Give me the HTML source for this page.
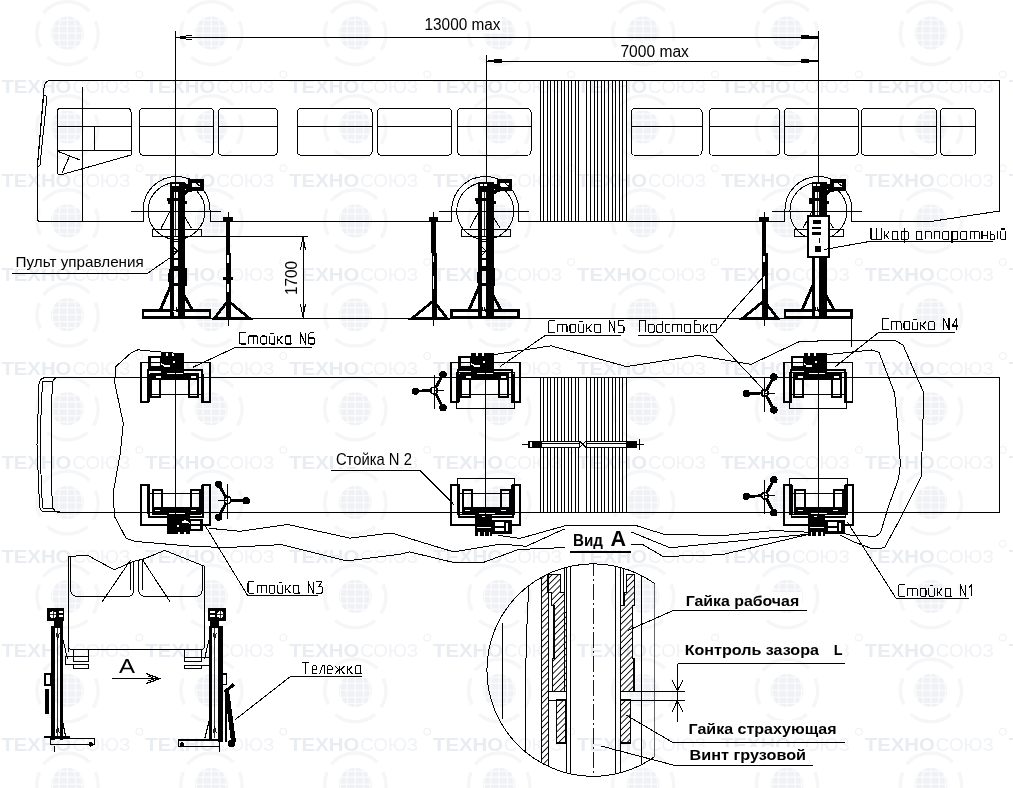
<!DOCTYPE html><html><head><meta charset="utf-8"><style>html,body{margin:0;padding:0;background:#fff;}svg{display:block;will-change:transform;}text{font-family:"Liberation Sans",sans-serif;}</style></head><body>
<svg width="1013" height="788" viewBox="0 0 1013 788">
<rect width="1013" height="788" fill="#fff"/>
<defs><g id="globe"><circle cx="0" cy="0" r="16.5" fill="#eff1f4"/><path d="M-16.5,0 H16.5 M-15,-7 H15 M-15,7 H15 M-10,-13 H10 M-10,13 H10 M0,-16.5 V16.5 M-7,-15.5 Q-10,0 -7,15.5 M7,-15.5 Q10,0 7,15.5 M-13,-10 Q-17,0 -13,10 M13,-10 Q17,0 13,10" stroke="#fbfbfc" stroke-width="1.4" fill="none"/><path d="M-24,-20 A31,31 0 0 1 22,-22 M28,-12 A31,31 0 0 1 26,17 M20,24 A31,31 0 0 1 -20,24 M-27,14 A31,31 0 0 1 -28,-12" stroke="#f5f6f8" stroke-width="3.5" fill="none"/></g></defs>
<g>
<text x="-142.5" y="-94.5" font-size="19" font-weight="bold" fill="#e9ecf0" textLength="70" lengthAdjust="spacingAndGlyphs">TEXHO</text>
<text x="-71.5" y="-94.5" font-size="19" fill="#f0f2f5" textLength="58" lengthAdjust="spacingAndGlyphs">СОЮЗ</text>
<circle cx="-4.5" cy="-113.5" r="3.5" fill="none" stroke="#eef0f3" stroke-width="1"/>
<use href="#globe" x="-76.5" y="-60.8"/>
<text x="1.4" y="-94.5" font-size="19" font-weight="bold" fill="#e9ecf0" textLength="70" lengthAdjust="spacingAndGlyphs">TEXHO</text>
<text x="72.4" y="-94.5" font-size="19" fill="#f0f2f5" textLength="58" lengthAdjust="spacingAndGlyphs">СОЮЗ</text>
<circle cx="139.4" cy="-113.5" r="3.5" fill="none" stroke="#eef0f3" stroke-width="1"/>
<use href="#globe" x="67.4" y="-60.8"/>
<text x="145.3" y="-94.5" font-size="19" font-weight="bold" fill="#e9ecf0" textLength="70" lengthAdjust="spacingAndGlyphs">TEXHO</text>
<text x="216.3" y="-94.5" font-size="19" fill="#f0f2f5" textLength="58" lengthAdjust="spacingAndGlyphs">СОЮЗ</text>
<circle cx="283.3" cy="-113.5" r="3.5" fill="none" stroke="#eef0f3" stroke-width="1"/>
<use href="#globe" x="211.3" y="-60.8"/>
<text x="289.2" y="-94.5" font-size="19" font-weight="bold" fill="#e9ecf0" textLength="70" lengthAdjust="spacingAndGlyphs">TEXHO</text>
<text x="360.2" y="-94.5" font-size="19" fill="#f0f2f5" textLength="58" lengthAdjust="spacingAndGlyphs">СОЮЗ</text>
<circle cx="427.2" cy="-113.5" r="3.5" fill="none" stroke="#eef0f3" stroke-width="1"/>
<use href="#globe" x="355.2" y="-60.8"/>
<text x="433.1" y="-94.5" font-size="19" font-weight="bold" fill="#e9ecf0" textLength="70" lengthAdjust="spacingAndGlyphs">TEXHO</text>
<text x="504.1" y="-94.5" font-size="19" fill="#f0f2f5" textLength="58" lengthAdjust="spacingAndGlyphs">СОЮЗ</text>
<circle cx="571.1" cy="-113.5" r="3.5" fill="none" stroke="#eef0f3" stroke-width="1"/>
<use href="#globe" x="499.1" y="-60.8"/>
<text x="577.0" y="-94.5" font-size="19" font-weight="bold" fill="#e9ecf0" textLength="70" lengthAdjust="spacingAndGlyphs">TEXHO</text>
<text x="648.0" y="-94.5" font-size="19" fill="#f0f2f5" textLength="58" lengthAdjust="spacingAndGlyphs">СОЮЗ</text>
<circle cx="715.0" cy="-113.5" r="3.5" fill="none" stroke="#eef0f3" stroke-width="1"/>
<use href="#globe" x="643.0" y="-60.8"/>
<text x="720.9" y="-94.5" font-size="19" font-weight="bold" fill="#e9ecf0" textLength="70" lengthAdjust="spacingAndGlyphs">TEXHO</text>
<text x="791.9" y="-94.5" font-size="19" fill="#f0f2f5" textLength="58" lengthAdjust="spacingAndGlyphs">СОЮЗ</text>
<circle cx="858.9" cy="-113.5" r="3.5" fill="none" stroke="#eef0f3" stroke-width="1"/>
<use href="#globe" x="786.9" y="-60.8"/>
<text x="864.8" y="-94.5" font-size="19" font-weight="bold" fill="#e9ecf0" textLength="70" lengthAdjust="spacingAndGlyphs">TEXHO</text>
<text x="935.8" y="-94.5" font-size="19" fill="#f0f2f5" textLength="58" lengthAdjust="spacingAndGlyphs">СОЮЗ</text>
<circle cx="1002.8" cy="-113.5" r="3.5" fill="none" stroke="#eef0f3" stroke-width="1"/>
<use href="#globe" x="930.8" y="-60.8"/>
<text x="1008.7" y="-94.5" font-size="19" font-weight="bold" fill="#e9ecf0" textLength="70" lengthAdjust="spacingAndGlyphs">TEXHO</text>
<text x="1079.7" y="-94.5" font-size="19" fill="#f0f2f5" textLength="58" lengthAdjust="spacingAndGlyphs">СОЮЗ</text>
<circle cx="1146.7" cy="-113.5" r="3.5" fill="none" stroke="#eef0f3" stroke-width="1"/>
<use href="#globe" x="1074.7" y="-60.8"/>
<text x="-142.5" y="-0.6" font-size="19" font-weight="bold" fill="#e9ecf0" textLength="70" lengthAdjust="spacingAndGlyphs">TEXHO</text>
<text x="-71.5" y="-0.6" font-size="19" fill="#f0f2f5" textLength="58" lengthAdjust="spacingAndGlyphs">СОЮЗ</text>
<circle cx="-4.5" cy="-19.6" r="3.5" fill="none" stroke="#eef0f3" stroke-width="1"/>
<use href="#globe" x="-76.5" y="33.1"/>
<text x="1.4" y="-0.6" font-size="19" font-weight="bold" fill="#e9ecf0" textLength="70" lengthAdjust="spacingAndGlyphs">TEXHO</text>
<text x="72.4" y="-0.6" font-size="19" fill="#f0f2f5" textLength="58" lengthAdjust="spacingAndGlyphs">СОЮЗ</text>
<circle cx="139.4" cy="-19.6" r="3.5" fill="none" stroke="#eef0f3" stroke-width="1"/>
<use href="#globe" x="67.4" y="33.1"/>
<text x="145.3" y="-0.6" font-size="19" font-weight="bold" fill="#e9ecf0" textLength="70" lengthAdjust="spacingAndGlyphs">TEXHO</text>
<text x="216.3" y="-0.6" font-size="19" fill="#f0f2f5" textLength="58" lengthAdjust="spacingAndGlyphs">СОЮЗ</text>
<circle cx="283.3" cy="-19.6" r="3.5" fill="none" stroke="#eef0f3" stroke-width="1"/>
<use href="#globe" x="211.3" y="33.1"/>
<text x="289.2" y="-0.6" font-size="19" font-weight="bold" fill="#e9ecf0" textLength="70" lengthAdjust="spacingAndGlyphs">TEXHO</text>
<text x="360.2" y="-0.6" font-size="19" fill="#f0f2f5" textLength="58" lengthAdjust="spacingAndGlyphs">СОЮЗ</text>
<circle cx="427.2" cy="-19.6" r="3.5" fill="none" stroke="#eef0f3" stroke-width="1"/>
<use href="#globe" x="355.2" y="33.1"/>
<text x="433.1" y="-0.6" font-size="19" font-weight="bold" fill="#e9ecf0" textLength="70" lengthAdjust="spacingAndGlyphs">TEXHO</text>
<text x="504.1" y="-0.6" font-size="19" fill="#f0f2f5" textLength="58" lengthAdjust="spacingAndGlyphs">СОЮЗ</text>
<circle cx="571.1" cy="-19.6" r="3.5" fill="none" stroke="#eef0f3" stroke-width="1"/>
<use href="#globe" x="499.1" y="33.1"/>
<text x="577.0" y="-0.6" font-size="19" font-weight="bold" fill="#e9ecf0" textLength="70" lengthAdjust="spacingAndGlyphs">TEXHO</text>
<text x="648.0" y="-0.6" font-size="19" fill="#f0f2f5" textLength="58" lengthAdjust="spacingAndGlyphs">СОЮЗ</text>
<circle cx="715.0" cy="-19.6" r="3.5" fill="none" stroke="#eef0f3" stroke-width="1"/>
<use href="#globe" x="643.0" y="33.1"/>
<text x="720.9" y="-0.6" font-size="19" font-weight="bold" fill="#e9ecf0" textLength="70" lengthAdjust="spacingAndGlyphs">TEXHO</text>
<text x="791.9" y="-0.6" font-size="19" fill="#f0f2f5" textLength="58" lengthAdjust="spacingAndGlyphs">СОЮЗ</text>
<circle cx="858.9" cy="-19.6" r="3.5" fill="none" stroke="#eef0f3" stroke-width="1"/>
<use href="#globe" x="786.9" y="33.1"/>
<text x="864.8" y="-0.6" font-size="19" font-weight="bold" fill="#e9ecf0" textLength="70" lengthAdjust="spacingAndGlyphs">TEXHO</text>
<text x="935.8" y="-0.6" font-size="19" fill="#f0f2f5" textLength="58" lengthAdjust="spacingAndGlyphs">СОЮЗ</text>
<circle cx="1002.8" cy="-19.6" r="3.5" fill="none" stroke="#eef0f3" stroke-width="1"/>
<use href="#globe" x="930.8" y="33.1"/>
<text x="1008.7" y="-0.6" font-size="19" font-weight="bold" fill="#e9ecf0" textLength="70" lengthAdjust="spacingAndGlyphs">TEXHO</text>
<text x="1079.7" y="-0.6" font-size="19" fill="#f0f2f5" textLength="58" lengthAdjust="spacingAndGlyphs">СОЮЗ</text>
<circle cx="1146.7" cy="-19.6" r="3.5" fill="none" stroke="#eef0f3" stroke-width="1"/>
<use href="#globe" x="1074.7" y="33.1"/>
<text x="-142.5" y="93.3" font-size="19" font-weight="bold" fill="#e9ecf0" textLength="70" lengthAdjust="spacingAndGlyphs">TEXHO</text>
<text x="-71.5" y="93.3" font-size="19" fill="#f0f2f5" textLength="58" lengthAdjust="spacingAndGlyphs">СОЮЗ</text>
<circle cx="-4.5" cy="74.3" r="3.5" fill="none" stroke="#eef0f3" stroke-width="1"/>
<use href="#globe" x="-76.5" y="127.0"/>
<text x="1.4" y="93.3" font-size="19" font-weight="bold" fill="#e9ecf0" textLength="70" lengthAdjust="spacingAndGlyphs">TEXHO</text>
<text x="72.4" y="93.3" font-size="19" fill="#f0f2f5" textLength="58" lengthAdjust="spacingAndGlyphs">СОЮЗ</text>
<circle cx="139.4" cy="74.3" r="3.5" fill="none" stroke="#eef0f3" stroke-width="1"/>
<use href="#globe" x="67.4" y="127.0"/>
<text x="145.3" y="93.3" font-size="19" font-weight="bold" fill="#e9ecf0" textLength="70" lengthAdjust="spacingAndGlyphs">TEXHO</text>
<text x="216.3" y="93.3" font-size="19" fill="#f0f2f5" textLength="58" lengthAdjust="spacingAndGlyphs">СОЮЗ</text>
<circle cx="283.3" cy="74.3" r="3.5" fill="none" stroke="#eef0f3" stroke-width="1"/>
<use href="#globe" x="211.3" y="127.0"/>
<text x="289.2" y="93.3" font-size="19" font-weight="bold" fill="#e9ecf0" textLength="70" lengthAdjust="spacingAndGlyphs">TEXHO</text>
<text x="360.2" y="93.3" font-size="19" fill="#f0f2f5" textLength="58" lengthAdjust="spacingAndGlyphs">СОЮЗ</text>
<circle cx="427.2" cy="74.3" r="3.5" fill="none" stroke="#eef0f3" stroke-width="1"/>
<use href="#globe" x="355.2" y="127.0"/>
<text x="433.1" y="93.3" font-size="19" font-weight="bold" fill="#e9ecf0" textLength="70" lengthAdjust="spacingAndGlyphs">TEXHO</text>
<text x="504.1" y="93.3" font-size="19" fill="#f0f2f5" textLength="58" lengthAdjust="spacingAndGlyphs">СОЮЗ</text>
<circle cx="571.1" cy="74.3" r="3.5" fill="none" stroke="#eef0f3" stroke-width="1"/>
<use href="#globe" x="499.1" y="127.0"/>
<text x="577.0" y="93.3" font-size="19" font-weight="bold" fill="#e9ecf0" textLength="70" lengthAdjust="spacingAndGlyphs">TEXHO</text>
<text x="648.0" y="93.3" font-size="19" fill="#f0f2f5" textLength="58" lengthAdjust="spacingAndGlyphs">СОЮЗ</text>
<circle cx="715.0" cy="74.3" r="3.5" fill="none" stroke="#eef0f3" stroke-width="1"/>
<use href="#globe" x="643.0" y="127.0"/>
<text x="720.9" y="93.3" font-size="19" font-weight="bold" fill="#e9ecf0" textLength="70" lengthAdjust="spacingAndGlyphs">TEXHO</text>
<text x="791.9" y="93.3" font-size="19" fill="#f0f2f5" textLength="58" lengthAdjust="spacingAndGlyphs">СОЮЗ</text>
<circle cx="858.9" cy="74.3" r="3.5" fill="none" stroke="#eef0f3" stroke-width="1"/>
<use href="#globe" x="786.9" y="127.0"/>
<text x="864.8" y="93.3" font-size="19" font-weight="bold" fill="#e9ecf0" textLength="70" lengthAdjust="spacingAndGlyphs">TEXHO</text>
<text x="935.8" y="93.3" font-size="19" fill="#f0f2f5" textLength="58" lengthAdjust="spacingAndGlyphs">СОЮЗ</text>
<circle cx="1002.8" cy="74.3" r="3.5" fill="none" stroke="#eef0f3" stroke-width="1"/>
<use href="#globe" x="930.8" y="127.0"/>
<text x="1008.7" y="93.3" font-size="19" font-weight="bold" fill="#e9ecf0" textLength="70" lengthAdjust="spacingAndGlyphs">TEXHO</text>
<text x="1079.7" y="93.3" font-size="19" fill="#f0f2f5" textLength="58" lengthAdjust="spacingAndGlyphs">СОЮЗ</text>
<circle cx="1146.7" cy="74.3" r="3.5" fill="none" stroke="#eef0f3" stroke-width="1"/>
<use href="#globe" x="1074.7" y="127.0"/>
<text x="-142.5" y="187.2" font-size="19" font-weight="bold" fill="#e9ecf0" textLength="70" lengthAdjust="spacingAndGlyphs">TEXHO</text>
<text x="-71.5" y="187.2" font-size="19" fill="#f0f2f5" textLength="58" lengthAdjust="spacingAndGlyphs">СОЮЗ</text>
<circle cx="-4.5" cy="168.2" r="3.5" fill="none" stroke="#eef0f3" stroke-width="1"/>
<use href="#globe" x="-76.5" y="220.9"/>
<text x="1.4" y="187.2" font-size="19" font-weight="bold" fill="#e9ecf0" textLength="70" lengthAdjust="spacingAndGlyphs">TEXHO</text>
<text x="72.4" y="187.2" font-size="19" fill="#f0f2f5" textLength="58" lengthAdjust="spacingAndGlyphs">СОЮЗ</text>
<circle cx="139.4" cy="168.2" r="3.5" fill="none" stroke="#eef0f3" stroke-width="1"/>
<use href="#globe" x="67.4" y="220.9"/>
<text x="145.3" y="187.2" font-size="19" font-weight="bold" fill="#e9ecf0" textLength="70" lengthAdjust="spacingAndGlyphs">TEXHO</text>
<text x="216.3" y="187.2" font-size="19" fill="#f0f2f5" textLength="58" lengthAdjust="spacingAndGlyphs">СОЮЗ</text>
<circle cx="283.3" cy="168.2" r="3.5" fill="none" stroke="#eef0f3" stroke-width="1"/>
<use href="#globe" x="211.3" y="220.9"/>
<text x="289.2" y="187.2" font-size="19" font-weight="bold" fill="#e9ecf0" textLength="70" lengthAdjust="spacingAndGlyphs">TEXHO</text>
<text x="360.2" y="187.2" font-size="19" fill="#f0f2f5" textLength="58" lengthAdjust="spacingAndGlyphs">СОЮЗ</text>
<circle cx="427.2" cy="168.2" r="3.5" fill="none" stroke="#eef0f3" stroke-width="1"/>
<use href="#globe" x="355.2" y="220.9"/>
<text x="433.1" y="187.2" font-size="19" font-weight="bold" fill="#e9ecf0" textLength="70" lengthAdjust="spacingAndGlyphs">TEXHO</text>
<text x="504.1" y="187.2" font-size="19" fill="#f0f2f5" textLength="58" lengthAdjust="spacingAndGlyphs">СОЮЗ</text>
<circle cx="571.1" cy="168.2" r="3.5" fill="none" stroke="#eef0f3" stroke-width="1"/>
<use href="#globe" x="499.1" y="220.9"/>
<text x="577.0" y="187.2" font-size="19" font-weight="bold" fill="#e9ecf0" textLength="70" lengthAdjust="spacingAndGlyphs">TEXHO</text>
<text x="648.0" y="187.2" font-size="19" fill="#f0f2f5" textLength="58" lengthAdjust="spacingAndGlyphs">СОЮЗ</text>
<circle cx="715.0" cy="168.2" r="3.5" fill="none" stroke="#eef0f3" stroke-width="1"/>
<use href="#globe" x="643.0" y="220.9"/>
<text x="720.9" y="187.2" font-size="19" font-weight="bold" fill="#e9ecf0" textLength="70" lengthAdjust="spacingAndGlyphs">TEXHO</text>
<text x="791.9" y="187.2" font-size="19" fill="#f0f2f5" textLength="58" lengthAdjust="spacingAndGlyphs">СОЮЗ</text>
<circle cx="858.9" cy="168.2" r="3.5" fill="none" stroke="#eef0f3" stroke-width="1"/>
<use href="#globe" x="786.9" y="220.9"/>
<text x="864.8" y="187.2" font-size="19" font-weight="bold" fill="#e9ecf0" textLength="70" lengthAdjust="spacingAndGlyphs">TEXHO</text>
<text x="935.8" y="187.2" font-size="19" fill="#f0f2f5" textLength="58" lengthAdjust="spacingAndGlyphs">СОЮЗ</text>
<circle cx="1002.8" cy="168.2" r="3.5" fill="none" stroke="#eef0f3" stroke-width="1"/>
<use href="#globe" x="930.8" y="220.9"/>
<text x="1008.7" y="187.2" font-size="19" font-weight="bold" fill="#e9ecf0" textLength="70" lengthAdjust="spacingAndGlyphs">TEXHO</text>
<text x="1079.7" y="187.2" font-size="19" fill="#f0f2f5" textLength="58" lengthAdjust="spacingAndGlyphs">СОЮЗ</text>
<circle cx="1146.7" cy="168.2" r="3.5" fill="none" stroke="#eef0f3" stroke-width="1"/>
<use href="#globe" x="1074.7" y="220.9"/>
<text x="-142.5" y="281.1" font-size="19" font-weight="bold" fill="#e9ecf0" textLength="70" lengthAdjust="spacingAndGlyphs">TEXHO</text>
<text x="-71.5" y="281.1" font-size="19" fill="#f0f2f5" textLength="58" lengthAdjust="spacingAndGlyphs">СОЮЗ</text>
<circle cx="-4.5" cy="262.1" r="3.5" fill="none" stroke="#eef0f3" stroke-width="1"/>
<use href="#globe" x="-76.5" y="314.8"/>
<text x="1.4" y="281.1" font-size="19" font-weight="bold" fill="#e9ecf0" textLength="70" lengthAdjust="spacingAndGlyphs">TEXHO</text>
<text x="72.4" y="281.1" font-size="19" fill="#f0f2f5" textLength="58" lengthAdjust="spacingAndGlyphs">СОЮЗ</text>
<circle cx="139.4" cy="262.1" r="3.5" fill="none" stroke="#eef0f3" stroke-width="1"/>
<use href="#globe" x="67.4" y="314.8"/>
<text x="145.3" y="281.1" font-size="19" font-weight="bold" fill="#e9ecf0" textLength="70" lengthAdjust="spacingAndGlyphs">TEXHO</text>
<text x="216.3" y="281.1" font-size="19" fill="#f0f2f5" textLength="58" lengthAdjust="spacingAndGlyphs">СОЮЗ</text>
<circle cx="283.3" cy="262.1" r="3.5" fill="none" stroke="#eef0f3" stroke-width="1"/>
<use href="#globe" x="211.3" y="314.8"/>
<text x="289.2" y="281.1" font-size="19" font-weight="bold" fill="#e9ecf0" textLength="70" lengthAdjust="spacingAndGlyphs">TEXHO</text>
<text x="360.2" y="281.1" font-size="19" fill="#f0f2f5" textLength="58" lengthAdjust="spacingAndGlyphs">СОЮЗ</text>
<circle cx="427.2" cy="262.1" r="3.5" fill="none" stroke="#eef0f3" stroke-width="1"/>
<use href="#globe" x="355.2" y="314.8"/>
<text x="433.1" y="281.1" font-size="19" font-weight="bold" fill="#e9ecf0" textLength="70" lengthAdjust="spacingAndGlyphs">TEXHO</text>
<text x="504.1" y="281.1" font-size="19" fill="#f0f2f5" textLength="58" lengthAdjust="spacingAndGlyphs">СОЮЗ</text>
<circle cx="571.1" cy="262.1" r="3.5" fill="none" stroke="#eef0f3" stroke-width="1"/>
<use href="#globe" x="499.1" y="314.8"/>
<text x="577.0" y="281.1" font-size="19" font-weight="bold" fill="#e9ecf0" textLength="70" lengthAdjust="spacingAndGlyphs">TEXHO</text>
<text x="648.0" y="281.1" font-size="19" fill="#f0f2f5" textLength="58" lengthAdjust="spacingAndGlyphs">СОЮЗ</text>
<circle cx="715.0" cy="262.1" r="3.5" fill="none" stroke="#eef0f3" stroke-width="1"/>
<use href="#globe" x="643.0" y="314.8"/>
<text x="720.9" y="281.1" font-size="19" font-weight="bold" fill="#e9ecf0" textLength="70" lengthAdjust="spacingAndGlyphs">TEXHO</text>
<text x="791.9" y="281.1" font-size="19" fill="#f0f2f5" textLength="58" lengthAdjust="spacingAndGlyphs">СОЮЗ</text>
<circle cx="858.9" cy="262.1" r="3.5" fill="none" stroke="#eef0f3" stroke-width="1"/>
<use href="#globe" x="786.9" y="314.8"/>
<text x="864.8" y="281.1" font-size="19" font-weight="bold" fill="#e9ecf0" textLength="70" lengthAdjust="spacingAndGlyphs">TEXHO</text>
<text x="935.8" y="281.1" font-size="19" fill="#f0f2f5" textLength="58" lengthAdjust="spacingAndGlyphs">СОЮЗ</text>
<circle cx="1002.8" cy="262.1" r="3.5" fill="none" stroke="#eef0f3" stroke-width="1"/>
<use href="#globe" x="930.8" y="314.8"/>
<text x="1008.7" y="281.1" font-size="19" font-weight="bold" fill="#e9ecf0" textLength="70" lengthAdjust="spacingAndGlyphs">TEXHO</text>
<text x="1079.7" y="281.1" font-size="19" fill="#f0f2f5" textLength="58" lengthAdjust="spacingAndGlyphs">СОЮЗ</text>
<circle cx="1146.7" cy="262.1" r="3.5" fill="none" stroke="#eef0f3" stroke-width="1"/>
<use href="#globe" x="1074.7" y="314.8"/>
<text x="-142.5" y="375.0" font-size="19" font-weight="bold" fill="#e9ecf0" textLength="70" lengthAdjust="spacingAndGlyphs">TEXHO</text>
<text x="-71.5" y="375.0" font-size="19" fill="#f0f2f5" textLength="58" lengthAdjust="spacingAndGlyphs">СОЮЗ</text>
<circle cx="-4.5" cy="356.0" r="3.5" fill="none" stroke="#eef0f3" stroke-width="1"/>
<use href="#globe" x="-76.5" y="408.7"/>
<text x="1.4" y="375.0" font-size="19" font-weight="bold" fill="#e9ecf0" textLength="70" lengthAdjust="spacingAndGlyphs">TEXHO</text>
<text x="72.4" y="375.0" font-size="19" fill="#f0f2f5" textLength="58" lengthAdjust="spacingAndGlyphs">СОЮЗ</text>
<circle cx="139.4" cy="356.0" r="3.5" fill="none" stroke="#eef0f3" stroke-width="1"/>
<use href="#globe" x="67.4" y="408.7"/>
<text x="145.3" y="375.0" font-size="19" font-weight="bold" fill="#e9ecf0" textLength="70" lengthAdjust="spacingAndGlyphs">TEXHO</text>
<text x="216.3" y="375.0" font-size="19" fill="#f0f2f5" textLength="58" lengthAdjust="spacingAndGlyphs">СОЮЗ</text>
<circle cx="283.3" cy="356.0" r="3.5" fill="none" stroke="#eef0f3" stroke-width="1"/>
<use href="#globe" x="211.3" y="408.7"/>
<text x="289.2" y="375.0" font-size="19" font-weight="bold" fill="#e9ecf0" textLength="70" lengthAdjust="spacingAndGlyphs">TEXHO</text>
<text x="360.2" y="375.0" font-size="19" fill="#f0f2f5" textLength="58" lengthAdjust="spacingAndGlyphs">СОЮЗ</text>
<circle cx="427.2" cy="356.0" r="3.5" fill="none" stroke="#eef0f3" stroke-width="1"/>
<use href="#globe" x="355.2" y="408.7"/>
<text x="433.1" y="375.0" font-size="19" font-weight="bold" fill="#e9ecf0" textLength="70" lengthAdjust="spacingAndGlyphs">TEXHO</text>
<text x="504.1" y="375.0" font-size="19" fill="#f0f2f5" textLength="58" lengthAdjust="spacingAndGlyphs">СОЮЗ</text>
<circle cx="571.1" cy="356.0" r="3.5" fill="none" stroke="#eef0f3" stroke-width="1"/>
<use href="#globe" x="499.1" y="408.7"/>
<text x="577.0" y="375.0" font-size="19" font-weight="bold" fill="#e9ecf0" textLength="70" lengthAdjust="spacingAndGlyphs">TEXHO</text>
<text x="648.0" y="375.0" font-size="19" fill="#f0f2f5" textLength="58" lengthAdjust="spacingAndGlyphs">СОЮЗ</text>
<circle cx="715.0" cy="356.0" r="3.5" fill="none" stroke="#eef0f3" stroke-width="1"/>
<use href="#globe" x="643.0" y="408.7"/>
<text x="720.9" y="375.0" font-size="19" font-weight="bold" fill="#e9ecf0" textLength="70" lengthAdjust="spacingAndGlyphs">TEXHO</text>
<text x="791.9" y="375.0" font-size="19" fill="#f0f2f5" textLength="58" lengthAdjust="spacingAndGlyphs">СОЮЗ</text>
<circle cx="858.9" cy="356.0" r="3.5" fill="none" stroke="#eef0f3" stroke-width="1"/>
<use href="#globe" x="786.9" y="408.7"/>
<text x="864.8" y="375.0" font-size="19" font-weight="bold" fill="#e9ecf0" textLength="70" lengthAdjust="spacingAndGlyphs">TEXHO</text>
<text x="935.8" y="375.0" font-size="19" fill="#f0f2f5" textLength="58" lengthAdjust="spacingAndGlyphs">СОЮЗ</text>
<circle cx="1002.8" cy="356.0" r="3.5" fill="none" stroke="#eef0f3" stroke-width="1"/>
<use href="#globe" x="930.8" y="408.7"/>
<text x="1008.7" y="375.0" font-size="19" font-weight="bold" fill="#e9ecf0" textLength="70" lengthAdjust="spacingAndGlyphs">TEXHO</text>
<text x="1079.7" y="375.0" font-size="19" fill="#f0f2f5" textLength="58" lengthAdjust="spacingAndGlyphs">СОЮЗ</text>
<circle cx="1146.7" cy="356.0" r="3.5" fill="none" stroke="#eef0f3" stroke-width="1"/>
<use href="#globe" x="1074.7" y="408.7"/>
<text x="-142.5" y="468.9" font-size="19" font-weight="bold" fill="#e9ecf0" textLength="70" lengthAdjust="spacingAndGlyphs">TEXHO</text>
<text x="-71.5" y="468.9" font-size="19" fill="#f0f2f5" textLength="58" lengthAdjust="spacingAndGlyphs">СОЮЗ</text>
<circle cx="-4.5" cy="449.9" r="3.5" fill="none" stroke="#eef0f3" stroke-width="1"/>
<use href="#globe" x="-76.5" y="502.6"/>
<text x="1.4" y="468.9" font-size="19" font-weight="bold" fill="#e9ecf0" textLength="70" lengthAdjust="spacingAndGlyphs">TEXHO</text>
<text x="72.4" y="468.9" font-size="19" fill="#f0f2f5" textLength="58" lengthAdjust="spacingAndGlyphs">СОЮЗ</text>
<circle cx="139.4" cy="449.9" r="3.5" fill="none" stroke="#eef0f3" stroke-width="1"/>
<use href="#globe" x="67.4" y="502.6"/>
<text x="145.3" y="468.9" font-size="19" font-weight="bold" fill="#e9ecf0" textLength="70" lengthAdjust="spacingAndGlyphs">TEXHO</text>
<text x="216.3" y="468.9" font-size="19" fill="#f0f2f5" textLength="58" lengthAdjust="spacingAndGlyphs">СОЮЗ</text>
<circle cx="283.3" cy="449.9" r="3.5" fill="none" stroke="#eef0f3" stroke-width="1"/>
<use href="#globe" x="211.3" y="502.6"/>
<text x="289.2" y="468.9" font-size="19" font-weight="bold" fill="#e9ecf0" textLength="70" lengthAdjust="spacingAndGlyphs">TEXHO</text>
<text x="360.2" y="468.9" font-size="19" fill="#f0f2f5" textLength="58" lengthAdjust="spacingAndGlyphs">СОЮЗ</text>
<circle cx="427.2" cy="449.9" r="3.5" fill="none" stroke="#eef0f3" stroke-width="1"/>
<use href="#globe" x="355.2" y="502.6"/>
<text x="433.1" y="468.9" font-size="19" font-weight="bold" fill="#e9ecf0" textLength="70" lengthAdjust="spacingAndGlyphs">TEXHO</text>
<text x="504.1" y="468.9" font-size="19" fill="#f0f2f5" textLength="58" lengthAdjust="spacingAndGlyphs">СОЮЗ</text>
<circle cx="571.1" cy="449.9" r="3.5" fill="none" stroke="#eef0f3" stroke-width="1"/>
<use href="#globe" x="499.1" y="502.6"/>
<text x="577.0" y="468.9" font-size="19" font-weight="bold" fill="#e9ecf0" textLength="70" lengthAdjust="spacingAndGlyphs">TEXHO</text>
<text x="648.0" y="468.9" font-size="19" fill="#f0f2f5" textLength="58" lengthAdjust="spacingAndGlyphs">СОЮЗ</text>
<circle cx="715.0" cy="449.9" r="3.5" fill="none" stroke="#eef0f3" stroke-width="1"/>
<use href="#globe" x="643.0" y="502.6"/>
<text x="720.9" y="468.9" font-size="19" font-weight="bold" fill="#e9ecf0" textLength="70" lengthAdjust="spacingAndGlyphs">TEXHO</text>
<text x="791.9" y="468.9" font-size="19" fill="#f0f2f5" textLength="58" lengthAdjust="spacingAndGlyphs">СОЮЗ</text>
<circle cx="858.9" cy="449.9" r="3.5" fill="none" stroke="#eef0f3" stroke-width="1"/>
<use href="#globe" x="786.9" y="502.6"/>
<text x="864.8" y="468.9" font-size="19" font-weight="bold" fill="#e9ecf0" textLength="70" lengthAdjust="spacingAndGlyphs">TEXHO</text>
<text x="935.8" y="468.9" font-size="19" fill="#f0f2f5" textLength="58" lengthAdjust="spacingAndGlyphs">СОЮЗ</text>
<circle cx="1002.8" cy="449.9" r="3.5" fill="none" stroke="#eef0f3" stroke-width="1"/>
<use href="#globe" x="930.8" y="502.6"/>
<text x="1008.7" y="468.9" font-size="19" font-weight="bold" fill="#e9ecf0" textLength="70" lengthAdjust="spacingAndGlyphs">TEXHO</text>
<text x="1079.7" y="468.9" font-size="19" fill="#f0f2f5" textLength="58" lengthAdjust="spacingAndGlyphs">СОЮЗ</text>
<circle cx="1146.7" cy="449.9" r="3.5" fill="none" stroke="#eef0f3" stroke-width="1"/>
<use href="#globe" x="1074.7" y="502.6"/>
<text x="-142.5" y="562.8" font-size="19" font-weight="bold" fill="#e9ecf0" textLength="70" lengthAdjust="spacingAndGlyphs">TEXHO</text>
<text x="-71.5" y="562.8" font-size="19" fill="#f0f2f5" textLength="58" lengthAdjust="spacingAndGlyphs">СОЮЗ</text>
<circle cx="-4.5" cy="543.8" r="3.5" fill="none" stroke="#eef0f3" stroke-width="1"/>
<use href="#globe" x="-76.5" y="596.5"/>
<text x="1.4" y="562.8" font-size="19" font-weight="bold" fill="#e9ecf0" textLength="70" lengthAdjust="spacingAndGlyphs">TEXHO</text>
<text x="72.4" y="562.8" font-size="19" fill="#f0f2f5" textLength="58" lengthAdjust="spacingAndGlyphs">СОЮЗ</text>
<circle cx="139.4" cy="543.8" r="3.5" fill="none" stroke="#eef0f3" stroke-width="1"/>
<use href="#globe" x="67.4" y="596.5"/>
<text x="145.3" y="562.8" font-size="19" font-weight="bold" fill="#e9ecf0" textLength="70" lengthAdjust="spacingAndGlyphs">TEXHO</text>
<text x="216.3" y="562.8" font-size="19" fill="#f0f2f5" textLength="58" lengthAdjust="spacingAndGlyphs">СОЮЗ</text>
<circle cx="283.3" cy="543.8" r="3.5" fill="none" stroke="#eef0f3" stroke-width="1"/>
<use href="#globe" x="211.3" y="596.5"/>
<text x="289.2" y="562.8" font-size="19" font-weight="bold" fill="#e9ecf0" textLength="70" lengthAdjust="spacingAndGlyphs">TEXHO</text>
<text x="360.2" y="562.8" font-size="19" fill="#f0f2f5" textLength="58" lengthAdjust="spacingAndGlyphs">СОЮЗ</text>
<circle cx="427.2" cy="543.8" r="3.5" fill="none" stroke="#eef0f3" stroke-width="1"/>
<use href="#globe" x="355.2" y="596.5"/>
<text x="433.1" y="562.8" font-size="19" font-weight="bold" fill="#e9ecf0" textLength="70" lengthAdjust="spacingAndGlyphs">TEXHO</text>
<text x="504.1" y="562.8" font-size="19" fill="#f0f2f5" textLength="58" lengthAdjust="spacingAndGlyphs">СОЮЗ</text>
<circle cx="571.1" cy="543.8" r="3.5" fill="none" stroke="#eef0f3" stroke-width="1"/>
<use href="#globe" x="499.1" y="596.5"/>
<text x="577.0" y="562.8" font-size="19" font-weight="bold" fill="#e9ecf0" textLength="70" lengthAdjust="spacingAndGlyphs">TEXHO</text>
<text x="648.0" y="562.8" font-size="19" fill="#f0f2f5" textLength="58" lengthAdjust="spacingAndGlyphs">СОЮЗ</text>
<circle cx="715.0" cy="543.8" r="3.5" fill="none" stroke="#eef0f3" stroke-width="1"/>
<use href="#globe" x="643.0" y="596.5"/>
<text x="720.9" y="562.8" font-size="19" font-weight="bold" fill="#e9ecf0" textLength="70" lengthAdjust="spacingAndGlyphs">TEXHO</text>
<text x="791.9" y="562.8" font-size="19" fill="#f0f2f5" textLength="58" lengthAdjust="spacingAndGlyphs">СОЮЗ</text>
<circle cx="858.9" cy="543.8" r="3.5" fill="none" stroke="#eef0f3" stroke-width="1"/>
<use href="#globe" x="786.9" y="596.5"/>
<text x="864.8" y="562.8" font-size="19" font-weight="bold" fill="#e9ecf0" textLength="70" lengthAdjust="spacingAndGlyphs">TEXHO</text>
<text x="935.8" y="562.8" font-size="19" fill="#f0f2f5" textLength="58" lengthAdjust="spacingAndGlyphs">СОЮЗ</text>
<circle cx="1002.8" cy="543.8" r="3.5" fill="none" stroke="#eef0f3" stroke-width="1"/>
<use href="#globe" x="930.8" y="596.5"/>
<text x="1008.7" y="562.8" font-size="19" font-weight="bold" fill="#e9ecf0" textLength="70" lengthAdjust="spacingAndGlyphs">TEXHO</text>
<text x="1079.7" y="562.8" font-size="19" fill="#f0f2f5" textLength="58" lengthAdjust="spacingAndGlyphs">СОЮЗ</text>
<circle cx="1146.7" cy="543.8" r="3.5" fill="none" stroke="#eef0f3" stroke-width="1"/>
<use href="#globe" x="1074.7" y="596.5"/>
<text x="-142.5" y="656.7" font-size="19" font-weight="bold" fill="#e9ecf0" textLength="70" lengthAdjust="spacingAndGlyphs">TEXHO</text>
<text x="-71.5" y="656.7" font-size="19" fill="#f0f2f5" textLength="58" lengthAdjust="spacingAndGlyphs">СОЮЗ</text>
<circle cx="-4.5" cy="637.7" r="3.5" fill="none" stroke="#eef0f3" stroke-width="1"/>
<use href="#globe" x="-76.5" y="690.4"/>
<text x="1.4" y="656.7" font-size="19" font-weight="bold" fill="#e9ecf0" textLength="70" lengthAdjust="spacingAndGlyphs">TEXHO</text>
<text x="72.4" y="656.7" font-size="19" fill="#f0f2f5" textLength="58" lengthAdjust="spacingAndGlyphs">СОЮЗ</text>
<circle cx="139.4" cy="637.7" r="3.5" fill="none" stroke="#eef0f3" stroke-width="1"/>
<use href="#globe" x="67.4" y="690.4"/>
<text x="145.3" y="656.7" font-size="19" font-weight="bold" fill="#e9ecf0" textLength="70" lengthAdjust="spacingAndGlyphs">TEXHO</text>
<text x="216.3" y="656.7" font-size="19" fill="#f0f2f5" textLength="58" lengthAdjust="spacingAndGlyphs">СОЮЗ</text>
<circle cx="283.3" cy="637.7" r="3.5" fill="none" stroke="#eef0f3" stroke-width="1"/>
<use href="#globe" x="211.3" y="690.4"/>
<text x="289.2" y="656.7" font-size="19" font-weight="bold" fill="#e9ecf0" textLength="70" lengthAdjust="spacingAndGlyphs">TEXHO</text>
<text x="360.2" y="656.7" font-size="19" fill="#f0f2f5" textLength="58" lengthAdjust="spacingAndGlyphs">СОЮЗ</text>
<circle cx="427.2" cy="637.7" r="3.5" fill="none" stroke="#eef0f3" stroke-width="1"/>
<use href="#globe" x="355.2" y="690.4"/>
<text x="433.1" y="656.7" font-size="19" font-weight="bold" fill="#e9ecf0" textLength="70" lengthAdjust="spacingAndGlyphs">TEXHO</text>
<text x="504.1" y="656.7" font-size="19" fill="#f0f2f5" textLength="58" lengthAdjust="spacingAndGlyphs">СОЮЗ</text>
<circle cx="571.1" cy="637.7" r="3.5" fill="none" stroke="#eef0f3" stroke-width="1"/>
<use href="#globe" x="499.1" y="690.4"/>
<text x="577.0" y="656.7" font-size="19" font-weight="bold" fill="#e9ecf0" textLength="70" lengthAdjust="spacingAndGlyphs">TEXHO</text>
<text x="648.0" y="656.7" font-size="19" fill="#f0f2f5" textLength="58" lengthAdjust="spacingAndGlyphs">СОЮЗ</text>
<circle cx="715.0" cy="637.7" r="3.5" fill="none" stroke="#eef0f3" stroke-width="1"/>
<use href="#globe" x="643.0" y="690.4"/>
<text x="720.9" y="656.7" font-size="19" font-weight="bold" fill="#e9ecf0" textLength="70" lengthAdjust="spacingAndGlyphs">TEXHO</text>
<text x="791.9" y="656.7" font-size="19" fill="#f0f2f5" textLength="58" lengthAdjust="spacingAndGlyphs">СОЮЗ</text>
<circle cx="858.9" cy="637.7" r="3.5" fill="none" stroke="#eef0f3" stroke-width="1"/>
<use href="#globe" x="786.9" y="690.4"/>
<text x="864.8" y="656.7" font-size="19" font-weight="bold" fill="#e9ecf0" textLength="70" lengthAdjust="spacingAndGlyphs">TEXHO</text>
<text x="935.8" y="656.7" font-size="19" fill="#f0f2f5" textLength="58" lengthAdjust="spacingAndGlyphs">СОЮЗ</text>
<circle cx="1002.8" cy="637.7" r="3.5" fill="none" stroke="#eef0f3" stroke-width="1"/>
<use href="#globe" x="930.8" y="690.4"/>
<text x="1008.7" y="656.7" font-size="19" font-weight="bold" fill="#e9ecf0" textLength="70" lengthAdjust="spacingAndGlyphs">TEXHO</text>
<text x="1079.7" y="656.7" font-size="19" fill="#f0f2f5" textLength="58" lengthAdjust="spacingAndGlyphs">СОЮЗ</text>
<circle cx="1146.7" cy="637.7" r="3.5" fill="none" stroke="#eef0f3" stroke-width="1"/>
<use href="#globe" x="1074.7" y="690.4"/>
<text x="-142.5" y="750.6" font-size="19" font-weight="bold" fill="#e9ecf0" textLength="70" lengthAdjust="spacingAndGlyphs">TEXHO</text>
<text x="-71.5" y="750.6" font-size="19" fill="#f0f2f5" textLength="58" lengthAdjust="spacingAndGlyphs">СОЮЗ</text>
<circle cx="-4.5" cy="731.6" r="3.5" fill="none" stroke="#eef0f3" stroke-width="1"/>
<use href="#globe" x="-76.5" y="784.3"/>
<text x="1.4" y="750.6" font-size="19" font-weight="bold" fill="#e9ecf0" textLength="70" lengthAdjust="spacingAndGlyphs">TEXHO</text>
<text x="72.4" y="750.6" font-size="19" fill="#f0f2f5" textLength="58" lengthAdjust="spacingAndGlyphs">СОЮЗ</text>
<circle cx="139.4" cy="731.6" r="3.5" fill="none" stroke="#eef0f3" stroke-width="1"/>
<use href="#globe" x="67.4" y="784.3"/>
<text x="145.3" y="750.6" font-size="19" font-weight="bold" fill="#e9ecf0" textLength="70" lengthAdjust="spacingAndGlyphs">TEXHO</text>
<text x="216.3" y="750.6" font-size="19" fill="#f0f2f5" textLength="58" lengthAdjust="spacingAndGlyphs">СОЮЗ</text>
<circle cx="283.3" cy="731.6" r="3.5" fill="none" stroke="#eef0f3" stroke-width="1"/>
<use href="#globe" x="211.3" y="784.3"/>
<text x="289.2" y="750.6" font-size="19" font-weight="bold" fill="#e9ecf0" textLength="70" lengthAdjust="spacingAndGlyphs">TEXHO</text>
<text x="360.2" y="750.6" font-size="19" fill="#f0f2f5" textLength="58" lengthAdjust="spacingAndGlyphs">СОЮЗ</text>
<circle cx="427.2" cy="731.6" r="3.5" fill="none" stroke="#eef0f3" stroke-width="1"/>
<use href="#globe" x="355.2" y="784.3"/>
<text x="433.1" y="750.6" font-size="19" font-weight="bold" fill="#e9ecf0" textLength="70" lengthAdjust="spacingAndGlyphs">TEXHO</text>
<text x="504.1" y="750.6" font-size="19" fill="#f0f2f5" textLength="58" lengthAdjust="spacingAndGlyphs">СОЮЗ</text>
<circle cx="571.1" cy="731.6" r="3.5" fill="none" stroke="#eef0f3" stroke-width="1"/>
<use href="#globe" x="499.1" y="784.3"/>
<text x="577.0" y="750.6" font-size="19" font-weight="bold" fill="#e9ecf0" textLength="70" lengthAdjust="spacingAndGlyphs">TEXHO</text>
<text x="648.0" y="750.6" font-size="19" fill="#f0f2f5" textLength="58" lengthAdjust="spacingAndGlyphs">СОЮЗ</text>
<circle cx="715.0" cy="731.6" r="3.5" fill="none" stroke="#eef0f3" stroke-width="1"/>
<use href="#globe" x="643.0" y="784.3"/>
<text x="720.9" y="750.6" font-size="19" font-weight="bold" fill="#e9ecf0" textLength="70" lengthAdjust="spacingAndGlyphs">TEXHO</text>
<text x="791.9" y="750.6" font-size="19" fill="#f0f2f5" textLength="58" lengthAdjust="spacingAndGlyphs">СОЮЗ</text>
<circle cx="858.9" cy="731.6" r="3.5" fill="none" stroke="#eef0f3" stroke-width="1"/>
<use href="#globe" x="786.9" y="784.3"/>
<text x="864.8" y="750.6" font-size="19" font-weight="bold" fill="#e9ecf0" textLength="70" lengthAdjust="spacingAndGlyphs">TEXHO</text>
<text x="935.8" y="750.6" font-size="19" fill="#f0f2f5" textLength="58" lengthAdjust="spacingAndGlyphs">СОЮЗ</text>
<circle cx="1002.8" cy="731.6" r="3.5" fill="none" stroke="#eef0f3" stroke-width="1"/>
<use href="#globe" x="930.8" y="784.3"/>
<text x="1008.7" y="750.6" font-size="19" font-weight="bold" fill="#e9ecf0" textLength="70" lengthAdjust="spacingAndGlyphs">TEXHO</text>
<text x="1079.7" y="750.6" font-size="19" fill="#f0f2f5" textLength="58" lengthAdjust="spacingAndGlyphs">СОЮЗ</text>
<circle cx="1146.7" cy="731.6" r="3.5" fill="none" stroke="#eef0f3" stroke-width="1"/>
<use href="#globe" x="1074.7" y="784.3"/>
</g>
<rect x="422" y="16" width="80" height="17" fill="#fff"/>
<rect x="618" y="41" width="73" height="18" fill="#fff"/>
<rect x="281" y="259" width="20" height="38" fill="#fff"/>
<rect x="13" y="253" width="133" height="16" fill="#fff"/>
<rect x="333" y="450" width="81" height="17" fill="#fff"/>
<rect x="683" y="592" width="119" height="17" fill="#fff"/>
<rect x="682" y="641" width="163" height="17" fill="#fff"/>
<rect x="686" y="720" width="153" height="17" fill="#fff"/>
<rect x="687" y="747" width="122" height="17" fill="#fff"/>
<g fill="none" stroke="#000" stroke-width="1" stroke-linecap="butt" shape-rendering="crispEdges">
<line x1="176" y1="37.5" x2="819" y2="37.5" stroke-width="1"/>
<line x1="486" y1="61" x2="819" y2="61" stroke-width="1"/>
<line x1="175.6" y1="31" x2="175.6" y2="212" stroke-width="1"/>
<line x1="818.9" y1="30.6" x2="818.9" y2="182" stroke-width="1"/>
<line x1="486" y1="55" x2="486" y2="182" stroke-width="1"/>
<polyline points="192,35 177,37.5 192,40" stroke-width="1"/>
<path d="M801,35.3 L808.5,35.3 L808.5,36.3 L818,36.3 L818,38.6 L808.5,38.6 L808.5,39 L801,39 Z" fill="#000" stroke="none"/>
<path d="M801,59.4 L808.5,59.4 L808.5,60.3 L818,60.3 L818,62.2 L808.5,62.2 L808.5,62.6 L801,62.6 Z" fill="#000" stroke="none"/>
<path d="M487.5,59.8 L494,59.8 L494,59.5 L502,59.2 L502,62.8 L494,62.8 L494,62 L487.5,62 Z" fill="#000" stroke="none"/>
<text x="424.5" y="29.7" font-size="16" font-weight="normal" fill="#000" stroke="none" textLength="76" lengthAdjust="spacingAndGlyphs" >13000 max</text>
<text x="620.4" y="57" font-size="16" font-weight="normal" fill="#000" stroke="none" textLength="68.5" lengthAdjust="spacingAndGlyphs" >7000 max</text>
<path d="M50,80.5 L999.7,80.5 L999.7,211 L928.7,221.8 L851.4,221.8 M785,221.8 L518.7,221.8 M451.8,221.8 L210.6,221.8 M142.6,221.8 L40,221.8 Q37,221 37,218 L37,170 L44,88 Q45,80.5 50,80.5"/>
<path d="M45.5,95 Q47,97 46.5,101 L40,165 Q39,167 37.5,166 L43.5,97 Q44,95 45.5,95 Z"/>
<rect x="139.5" y="108.3" width="74" height="47" rx="4"/>
<line x1="139.5" y1="126.4" x2="213.5" y2="126.4" stroke-width="1"/>
<rect x="218.3" y="108.3" width="59.1" height="47" rx="4"/>
<line x1="218.3" y1="126.4" x2="277.4" y2="126.4" stroke-width="1"/>
<rect x="297.3" y="108.3" width="74.8" height="47" rx="4"/>
<line x1="297.3" y1="126.4" x2="372.1" y2="126.4" stroke-width="1"/>
<rect x="377.5" y="108.3" width="74.2" height="47" rx="4"/>
<line x1="377.5" y1="126.4" x2="451.7" y2="126.4" stroke-width="1"/>
<rect x="457.4" y="108.3" width="73.6" height="47" rx="4"/>
<line x1="457.4" y1="126.4" x2="531" y2="126.4" stroke-width="1"/>
<rect x="631" y="108.3" width="71" height="47" rx="4"/>
<line x1="631" y1="126.4" x2="702" y2="126.4" stroke-width="1"/>
<rect x="709" y="108.3" width="70.8" height="47" rx="4"/>
<line x1="709" y1="126.4" x2="779.8" y2="126.4" stroke-width="1"/>
<rect x="784.3" y="108.3" width="74.2" height="47" rx="4"/>
<line x1="784.3" y1="126.4" x2="858.5" y2="126.4" stroke-width="1"/>
<rect x="861.3" y="108.3" width="75.4" height="47" rx="4"/>
<line x1="861.3" y1="126.4" x2="936.7" y2="126.4" stroke-width="1"/>
<rect x="940.4" y="108.3" width="35.5" height="47" rx="4"/>
<line x1="940.4" y1="126.4" x2="975.9" y2="126.4" stroke-width="1"/>
<path d="M61,108.3 L127,108.3 Q131,108.3 131,112 L131,155 L62,174.5 Q57,175.5 57,171 L57,112 Q57,108.3 61,108.3 Z"/>
<line x1="57" y1="126.4" x2="131" y2="126.4" stroke-width="1"/>
<line x1="94" y1="126.4" x2="94" y2="150" stroke-width="1"/>
<line x1="57" y1="150" x2="131" y2="150" stroke-width="1"/>
<line x1="57" y1="151" x2="80" y2="160" stroke-width="1"/>
<line x1="70" y1="155" x2="62" y2="173" stroke-width="1"/>
<line x1="82" y1="87" x2="82" y2="221.8" stroke-width="1"/>
<line x1="540.3" y1="80.5" x2="540.3" y2="221.8" stroke-width="1"/>
<line x1="543.81" y1="80.5" x2="543.81" y2="221.8" stroke-width="1"/>
<line x1="547.32" y1="80.5" x2="547.32" y2="221.8" stroke-width="1"/>
<line x1="550.83" y1="80.5" x2="550.83" y2="221.8" stroke-width="1"/>
<line x1="554.34" y1="80.5" x2="554.34" y2="221.8" stroke-width="1"/>
<line x1="557.85" y1="80.5" x2="557.85" y2="221.8" stroke-width="1"/>
<line x1="561.36" y1="80.5" x2="561.36" y2="221.8" stroke-width="1"/>
<line x1="564.87" y1="80.5" x2="564.87" y2="221.8" stroke-width="1"/>
<line x1="568.38" y1="80.5" x2="568.38" y2="221.8" stroke-width="1"/>
<line x1="571.89" y1="80.5" x2="571.89" y2="221.8" stroke-width="1"/>
<line x1="575.4" y1="80.5" x2="575.4" y2="221.8" stroke-width="1"/>
<line x1="578.91" y1="80.5" x2="578.91" y2="221.8" stroke-width="1"/>
<line x1="586.8" y1="80.5" x2="586.8" y2="221.8" stroke-width="1"/>
<line x1="590.4" y1="80.5" x2="590.4" y2="221.8" stroke-width="1"/>
<line x1="594" y1="80.5" x2="594" y2="221.8" stroke-width="1"/>
<line x1="597.6" y1="80.5" x2="597.6" y2="221.8" stroke-width="1"/>
<line x1="601.2" y1="80.5" x2="601.2" y2="221.8" stroke-width="1"/>
<line x1="604.8" y1="80.5" x2="604.8" y2="221.8" stroke-width="1"/>
<line x1="608.4" y1="80.5" x2="608.4" y2="221.8" stroke-width="1"/>
<line x1="612" y1="80.5" x2="612" y2="221.8" stroke-width="1"/>
<line x1="615.6" y1="80.5" x2="615.6" y2="221.8" stroke-width="1"/>
<line x1="619.2" y1="80.5" x2="619.2" y2="221.8" stroke-width="1"/>
<line x1="622.8" y1="80.5" x2="622.8" y2="221.8" stroke-width="1"/>
<line x1="626.4" y1="80.5" x2="626.4" y2="221.8" stroke-width="1"/>
<path d="M143,221.8 L143,210 A33.5,33.5 0 0 1 210,210 L210,221.8"/>
<circle cx="176.5" cy="211" r="28.5"/>
<line x1="130.5" y1="211.4" x2="220.5" y2="211.4" stroke-width="1"/>
<path d="M152.5,229 L201.5,229 L201.5,236.6 L152.5,236.6 Z"/>
<line x1="161" y1="228.4" x2="169.5" y2="212.4" stroke-width="1"/>
<line x1="183.2" y1="214.6" x2="191.6" y2="228.4" stroke-width="1"/>
<rect x="169.6" y="190" width="3.9" height="129" fill="#000" stroke="none"/>
<rect x="177.5" y="190" width="7.8" height="129" fill="#000" stroke="none"/>
<line x1="175.5" y1="190" x2="175.5" y2="236" stroke-width="0.8"/>
<rect x="169.6" y="181.5" width="15.7" height="10" fill="#000" stroke="none"/>
<rect x="171.5" y="183.5" width="3" height="2" fill="#fff" stroke="none"/>
<rect x="175.5" y="183.5" width="3" height="2" fill="#fff" stroke="none"/>
<rect x="190" y="181" width="12" height="8" stroke-width="3.2"/>
<path d="M183.5,194 L188.5,190 L199.5,189" stroke-width="3.6"/>
<rect x="184.5" y="184" width="6" height="5" fill="#000" stroke="none"/>
<rect x="166.7" y="197.5" width="18.6" height="3.5" fill="#000" stroke="none"/>
<rect x="167.5" y="201" width="2.5" height="3" fill="#000" stroke="none"/>
<rect x="185.3" y="201" width="2" height="3" fill="#000" stroke="none"/>
<rect x="173.5" y="240.6" width="4" height="1.6" fill="#000" stroke="none"/>
<path d="M173.5,247 L177.5,251 L173.5,254.8 M173.5,251 L177.5,251" stroke-width="1"/>
<rect x="173.5" y="257.7" width="4" height="2.2" fill="#000" stroke="none"/>
<rect x="173.5" y="266" width="4" height="2.5" fill="#000" stroke="none"/>
<path d="M170.5,270 Q168,277 170.5,284.5 L185.5,284.5 L185.5,269 Z" stroke-width="2.4"/>
<rect x="143.1" y="310.2" width="66.8" height="7.2" stroke-width="2.6"/>
<line x1="142" y1="318" x2="211" y2="318" stroke-width="1.6"/>
<rect x="172.9" y="306.5" width="3.4" height="5" fill="#fff" stroke="none"/>
<path d="M173.5,306.5 L173.5,310.5 L176,310.5 L176,306.5" stroke-width="1"/>
<line x1="160.5" y1="309.5" x2="170.8" y2="285.7" stroke-width="3"/>
<line x1="192" y1="309.5" x2="178.8" y2="285.7" stroke-width="3"/>
<path d="M451.7,221.8 L451.7,210 A33.5,33.5 0 0 1 518.7,210 L518.7,221.8"/>
<circle cx="485.2" cy="211" r="28.5"/>
<line x1="439.2" y1="211.4" x2="529.2" y2="211.4" stroke-width="1"/>
<path d="M461.2,229 L510.2,229 L510.2,236.6 L461.2,236.6 Z"/>
<line x1="469.7" y1="228.4" x2="478.2" y2="212.4" stroke-width="1"/>
<line x1="491.9" y1="214.6" x2="500.3" y2="228.4" stroke-width="1"/>
<rect x="478.3" y="190" width="3.9" height="129" fill="#000" stroke="none"/>
<rect x="486.2" y="190" width="7.8" height="129" fill="#000" stroke="none"/>
<line x1="484.2" y1="190" x2="484.2" y2="236" stroke-width="0.8"/>
<rect x="478.3" y="181.5" width="15.7" height="10" fill="#000" stroke="none"/>
<rect x="480.2" y="183.5" width="3" height="2" fill="#fff" stroke="none"/>
<rect x="484.2" y="183.5" width="3" height="2" fill="#fff" stroke="none"/>
<rect x="498.7" y="181" width="12" height="8" stroke-width="3.2"/>
<path d="M492.2,194 L497.2,190 L508.2,189" stroke-width="3.6"/>
<rect x="493.2" y="184" width="6" height="5" fill="#000" stroke="none"/>
<rect x="475.4" y="197.5" width="18.6" height="3.5" fill="#000" stroke="none"/>
<rect x="476.2" y="201" width="2.5" height="3" fill="#000" stroke="none"/>
<rect x="494" y="201" width="2" height="3" fill="#000" stroke="none"/>
<rect x="482.2" y="240.6" width="4" height="1.6" fill="#000" stroke="none"/>
<path d="M482.2,247 L486.2,251 L482.2,254.8 M482.2,251 L486.2,251" stroke-width="1"/>
<rect x="482.2" y="257.7" width="4" height="2.2" fill="#000" stroke="none"/>
<rect x="482.2" y="266" width="4" height="2.5" fill="#000" stroke="none"/>
<path d="M479.2,270 Q476.7,277 479.2,284.5 L494.2,284.5 L494.2,269 Z" stroke-width="2.4"/>
<rect x="451.8" y="310.2" width="66.8" height="7.2" stroke-width="2.6"/>
<line x1="450.7" y1="318" x2="519.7" y2="318" stroke-width="1.6"/>
<rect x="481.6" y="306.5" width="3.4" height="5" fill="#fff" stroke="none"/>
<path d="M482.2,306.5 L482.2,310.5 L484.7,310.5 L484.7,306.5" stroke-width="1"/>
<line x1="469.2" y1="309.5" x2="479.5" y2="285.7" stroke-width="3"/>
<line x1="500.7" y1="309.5" x2="487.5" y2="285.7" stroke-width="3"/>
<path d="M784.9,221.8 L784.9,210 A33.5,33.5 0 0 1 851.9,210 L851.9,221.8"/>
<circle cx="818.4" cy="211" r="28.5"/>
<line x1="772.4" y1="211.4" x2="862.4" y2="211.4" stroke-width="1"/>
<path d="M794.4,229 L843.4,229 L843.4,236.6 L794.4,236.6 Z"/>
<line x1="802.9" y1="228.4" x2="811.4" y2="212.4" stroke-width="1"/>
<line x1="825.1" y1="214.6" x2="833.5" y2="228.4" stroke-width="1"/>
<rect x="811.5" y="190" width="3.9" height="129" fill="#000" stroke="none"/>
<rect x="819.4" y="190" width="7.8" height="129" fill="#000" stroke="none"/>
<line x1="817.4" y1="190" x2="817.4" y2="236" stroke-width="0.8"/>
<rect x="811.5" y="181.5" width="15.7" height="10" fill="#000" stroke="none"/>
<rect x="813.4" y="183.5" width="3" height="2" fill="#fff" stroke="none"/>
<rect x="817.4" y="183.5" width="3" height="2" fill="#fff" stroke="none"/>
<rect x="831.9" y="181" width="12" height="8" stroke-width="3.2"/>
<path d="M825.4,194 L830.4,190 L841.4,189" stroke-width="3.6"/>
<rect x="826.4" y="184" width="6" height="5" fill="#000" stroke="none"/>
<rect x="808.6" y="197.5" width="18.6" height="3.5" fill="#000" stroke="none"/>
<rect x="809.4" y="201" width="2.5" height="3" fill="#000" stroke="none"/>
<rect x="827.2" y="201" width="2" height="3" fill="#000" stroke="none"/>
<rect x="785" y="310.2" width="66.8" height="7.2" stroke-width="2.6"/>
<line x1="783.9" y1="318" x2="852.9" y2="318" stroke-width="1.6"/>
<rect x="814.8" y="306.5" width="3.4" height="5" fill="#fff" stroke="none"/>
<path d="M815.4,306.5 L815.4,310.5 L817.9,310.5 L817.9,306.5" stroke-width="1"/>
<line x1="802.4" y1="309.5" x2="812.7" y2="285.7" stroke-width="3"/>
<line x1="833.9" y1="309.5" x2="820.7" y2="285.7" stroke-width="3"/>
<line x1="228" y1="212" x2="228" y2="326" stroke-width="1"/>
<rect x="225.6" y="221" width="4.8" height="32" fill="#000" stroke="none"/>
<rect x="225.6" y="253" width="5.6" height="66" fill="#000" stroke="none"/>
<rect x="223.2" y="216.8" width="9.6" height="4.4" fill="#000" stroke="none"/>
<rect x="223.3" y="276.5" width="9.4" height="3.6" fill="#000" stroke="none"/>
<rect x="227.4" y="255.3" width="1.2" height="7.3" fill="#fff" stroke="none"/>
<rect x="227.4" y="283.8" width="1.2" height="8" fill="#fff" stroke="none"/>
<path d="M214.4,318.3 L228,300.8 L249.4,318.3 Z" stroke-width="2.8" stroke-linejoin="miter"/>
<line x1="433.5" y1="212" x2="433.5" y2="326" stroke-width="1"/>
<rect x="431.1" y="221" width="4.8" height="32" fill="#000" stroke="none"/>
<rect x="431.7" y="253" width="5.6" height="66" fill="#000" stroke="none"/>
<rect x="428.7" y="216.8" width="9.6" height="4.4" fill="#000" stroke="none"/>
<rect x="432.9" y="256" width="1.2" height="6" fill="#fff" stroke="none"/>
<rect x="432.9" y="276" width="1.2" height="13" fill="#fff" stroke="none"/>
<path d="M447.1,318.3 L433.5,300.8 L412.1,318.3 Z" stroke-width="2.8" stroke-linejoin="miter"/>
<line x1="764" y1="212" x2="764" y2="326" stroke-width="1"/>
<rect x="761.6" y="221" width="4.8" height="32" fill="#000" stroke="none"/>
<rect x="762.2" y="253" width="5.6" height="66" fill="#000" stroke="none"/>
<rect x="759.2" y="216.8" width="9.6" height="4.4" fill="#000" stroke="none"/>
<rect x="763.4" y="256" width="1.2" height="6" fill="#fff" stroke="none"/>
<rect x="763.4" y="276" width="1.2" height="13" fill="#fff" stroke="none"/>
<path d="M777.6,318.3 L764,300.8 L742.6,318.3 Z" stroke-width="2.8" stroke-linejoin="miter"/>
<line x1="209" y1="318.3" x2="851.4" y2="318.3" stroke-width="1"/>
<line x1="851.4" y1="318.3" x2="851.4" y2="347" stroke-width="1"/>
<line x1="152" y1="236.6" x2="307.7" y2="236.6" stroke-width="1"/>
<line x1="303" y1="236.6" x2="303" y2="317.5" stroke-width="1"/>
<polyline points="300.5,250 303,237 305.5,250" stroke-width="1"/>
<polyline points="300.5,304 303,317 305.5,304" stroke-width="1"/>
<text x="0" y="0" font-size="16" font-weight="normal" fill="#000" stroke="none" textLength="34" lengthAdjust="spacingAndGlyphs" transform="translate(297,295) rotate(-90)">1700</text>
<rect x="807.5" y="215.5" width="21" height="41" fill="#fff" stroke-width="2"/>
<rect x="813" y="220" width="8" height="3.5" fill="#000" stroke="none"/>
<rect x="812" y="226.5" width="9" height="2.6" fill="#000" stroke="none"/>
<rect x="812" y="232.3" width="9" height="2.6" fill="#000" stroke="none"/>
<rect x="815" y="246" width="6" height="6" fill="#000" stroke="none"/>
<rect x="818.5" y="238" width="1.8" height="5" fill="#000" stroke="none"/>
<text x="15.6" y="266.8" font-size="15" font-weight="normal" fill="#000" stroke="none" textLength="128.2" lengthAdjust="spacingAndGlyphs" >Пульт управления</text>
<polyline points="12,273 148,273 169.6,258" stroke-width="1"/>
<g transform="translate(871,239.4) scale(0.9832,1)" stroke-width="1.05" stroke-linejoin="round">
<path transform="translate(0.00,0)" d="M0,-11.5 L0,0 L10.8,0 L10.8,-11.5 M5.4,-11.5 L5.4,0" vector-effect="non-scaling-stroke"/>
<path transform="translate(13.70,0)" d="M0,-8.0 L0,0 M0,-4 L1.6,-4 L4.8,-8.0 M1.6,-4 L4.8,0" vector-effect="non-scaling-stroke"/>
<path transform="translate(21.40,0)" d="M5.6,-8.0 L1.3,-8.0 Q0,-8.0 0,-6.7 L0,-1.3 Q0,0 1.3,0 L5.6,0 M5.6,-8.0 L5.6,-1 Q5.6,0 6.6,0" vector-effect="non-scaling-stroke"/>
<path transform="translate(30.90,0)" d="M1.3,-8.0 L5.7,-8.0 Q7,-8.0 7,-6.7 L7,-1.3 Q7,0 5.7,0 L1.3,0 Q0,0 0,-1.3 L0,-6.7 Q0,-8.0 1.3,-8.0 Z M3.5,-11.5 L3.5,3.2" vector-effect="non-scaling-stroke"/>
<path transform="translate(46.00,0)" d="M5.6,-8.0 L1.3,-8.0 Q0,-8.0 0,-6.7 L0,-1.3 Q0,0 1.3,0 L5.6,0 M5.6,-8.0 L5.6,-1 Q5.6,0 6.6,0" vector-effect="non-scaling-stroke"/>
<path transform="translate(55.50,0)" d="M0,0 L0,-8.0 L4.5,-8.0 Q5.8,-8.0 5.8,-6.7 L5.8,0" vector-effect="non-scaling-stroke"/>
<path transform="translate(64.20,0)" d="M0,0 L0,-8.0 L4.5,-8.0 Q5.8,-8.0 5.8,-6.7 L5.8,0" vector-effect="non-scaling-stroke"/>
<path transform="translate(72.90,0)" d="M5.6,-8.0 L1.3,-8.0 Q0,-8.0 0,-6.7 L0,-1.3 Q0,0 1.3,0 L5.6,0 M5.6,-8.0 L5.6,-1 Q5.6,0 6.6,0" vector-effect="non-scaling-stroke"/>
<path transform="translate(82.40,0)" d="M0,3.2 L0,-8.0 L4.7,-8.0 Q6,-8.0 6,-6.7 L6,-1.3 Q6,0 4.7,0 L0,0" vector-effect="non-scaling-stroke"/>
<path transform="translate(91.30,0)" d="M5.6,-8.0 L1.3,-8.0 Q0,-8.0 0,-6.7 L0,-1.3 Q0,0 1.3,0 L5.6,0 M5.6,-8.0 L5.6,-1 Q5.6,0 6.6,0" vector-effect="non-scaling-stroke"/>
<path transform="translate(100.80,0)" d="M0,0 L0,-8.0 L7.8999999999999995,-8.0 Q9.2,-8.0 9.2,-6.7 L9.2,0 M4.6,-8.0 L4.6,0" vector-effect="non-scaling-stroke"/>
<path transform="translate(112.90,0)" d="M0,-8.0 L0,0 M0,-4 L5.5,-4 M5.5,-8.0 L5.5,0" vector-effect="non-scaling-stroke"/>
<path transform="translate(121.30,0)" d="M0,-8.0 L0,0 L3.2,0 Q4.5,0 4.5,-1.3 L4.5,-3.2 Q4.5,-4.5 3.2,-4.5 L0,-4.5 M7.6,-8.0 L7.6,0" vector-effect="non-scaling-stroke"/>
<path transform="translate(131.80,0)" d="M0,-8.0 L0,-1.3 Q0,0 1.3,0 L5,0 M5,-8.0 L5,0 M0.8,-10.4 L4.2,-10.4" vector-effect="non-scaling-stroke"/>
</g>
<polyline points="823.6,249.6 870.5,241.3 993.3,241.3" stroke-width="1"/>
<path d="M57,377.3 L999.7,377.3 L999.7,512 L57,512"/>
<path d="M60,377.3 L44,377.8 Q39.5,379 39,384 L37,445 L39.5,506 Q40,511.5 45,511.8 L60,512"/>
<path d="M43,381 L52.5,381 L52.5,392 Q51,396 51,402 L51,488 Q51,494 52.5,498 L52.5,508 L43,508 Q41,495 40.5,445 Q41,395 43,381 Z"/>
<path d="M53.5,381 Q54,378 57,377.3 M53.5,508 Q54,511.5 57,512"/>
<g transform="translate(175.5,361.8)">
<path d="M-34.6,40.6 L-34.6,0.8 L34.3,0.8 L34.3,40.6 L26.8,40.6 L26.8,8.5 L-27.2,8.5 L-27.2,40.6 Z" stroke-width="1.8"/>
<path d="M-27.2,12 L-27.2,40.6 M26.8,12 L26.8,40.6" stroke-width="2.6"/>
<line x1="-27" y1="32.4" x2="27" y2="32.4" stroke-width="1"/>
<rect x="-24.3" y="11.8" width="9" height="23.5" stroke-width="2"/>
<rect x="13.5" y="11.8" width="9.3" height="23.5" stroke-width="2"/>
<rect x="-24.3" y="11" width="47.1" height="7.2" fill="#000" stroke="none"/>
<rect x="-20" y="14.5" width="5" height="1.3" fill="#fff" stroke="none"/>
<rect x="15.5" y="14.5" width="5" height="1.3" fill="#fff" stroke="none"/>
<rect x="-9" y="11.5" width="16" height="1.2" fill="#fff" stroke="none"/>
<rect x="-26" y="-4.5" width="11.7" height="10.2" stroke-width="2.4"/>
<rect x="-23" y="-2.5" width="6" height="2" fill="#fff" stroke="none"/>
<rect x="-14.3" y="-8.5" width="22.8" height="20" fill="#000" stroke="none"/>
<rect x="-10" y="-8.6" width="2" height="2.5" fill="#fff" stroke="none"/>
<rect x="-4" y="-8.6" width="2" height="2.5" fill="#fff" stroke="none"/>
<rect x="-12" y="3" width="6" height="2" fill="#fff" stroke="none"/>
<rect x="-3" y="-1" width="2" height="2" fill="#fff" stroke="none"/>
<path d="M-14.3,2 L-9,5" stroke="#fff" stroke-width="1.2"/>
</g>
<g transform="translate(485.5,361.8)">
<rect x="-29" y="10.6" width="57.5" height="36.4" stroke-width="1"/>
<path d="M-34.6,40.6 L-34.6,0.8 L34.3,0.8 L34.3,40.6 L26.8,40.6 L26.8,8.5 L-27.2,8.5 L-27.2,40.6 Z" stroke-width="1.8"/>
<path d="M-27.2,12 L-27.2,40.6 M26.8,12 L26.8,40.6" stroke-width="2.6"/>
<line x1="-27" y1="32.4" x2="27" y2="32.4" stroke-width="1"/>
<rect x="-24.3" y="11.8" width="9" height="23.5" stroke-width="2"/>
<rect x="13.5" y="11.8" width="9.3" height="23.5" stroke-width="2"/>
<rect x="-24.3" y="11" width="47.1" height="7.2" fill="#000" stroke="none"/>
<rect x="-20" y="14.5" width="5" height="1.3" fill="#fff" stroke="none"/>
<rect x="15.5" y="14.5" width="5" height="1.3" fill="#fff" stroke="none"/>
<rect x="-9" y="11.5" width="16" height="1.2" fill="#fff" stroke="none"/>
<rect x="-26" y="-4.5" width="11.7" height="10.2" stroke-width="2.4"/>
<rect x="-23" y="-2.5" width="6" height="2" fill="#fff" stroke="none"/>
<rect x="-14.3" y="-8.5" width="22.8" height="20" fill="#000" stroke="none"/>
<rect x="-10" y="-8.6" width="2" height="2.5" fill="#fff" stroke="none"/>
<rect x="-4" y="-8.6" width="2" height="2.5" fill="#fff" stroke="none"/>
<rect x="-12" y="3" width="6" height="2" fill="#fff" stroke="none"/>
<rect x="-3" y="-1" width="2" height="2" fill="#fff" stroke="none"/>
<path d="M-14.3,2 L-9,5" stroke="#fff" stroke-width="1.2"/>
</g>
<g transform="translate(818.3,361.8)">
<rect x="-29" y="10.6" width="57.5" height="36.4" stroke-width="1"/>
<path d="M-34.6,40.6 L-34.6,0.8 L34.3,0.8 L34.3,40.6 L26.8,40.6 L26.8,8.5 L-27.2,8.5 L-27.2,40.6 Z" stroke-width="1.8"/>
<path d="M-27.2,12 L-27.2,40.6 M26.8,12 L26.8,40.6" stroke-width="2.6"/>
<line x1="-27" y1="32.4" x2="27" y2="32.4" stroke-width="1"/>
<rect x="-24.3" y="11.8" width="9" height="23.5" stroke-width="2"/>
<rect x="13.5" y="11.8" width="9.3" height="23.5" stroke-width="2"/>
<rect x="-24.3" y="11" width="47.1" height="7.2" fill="#000" stroke="none"/>
<rect x="-20" y="14.5" width="5" height="1.3" fill="#fff" stroke="none"/>
<rect x="15.5" y="14.5" width="5" height="1.3" fill="#fff" stroke="none"/>
<rect x="-9" y="11.5" width="16" height="1.2" fill="#fff" stroke="none"/>
<rect x="-26" y="-4.5" width="11.7" height="10.2" stroke-width="2.4"/>
<rect x="-23" y="-2.5" width="6" height="2" fill="#fff" stroke="none"/>
<rect x="-14.3" y="-8.5" width="22.8" height="20" fill="#000" stroke="none"/>
<rect x="-10" y="-8.6" width="2" height="2.5" fill="#fff" stroke="none"/>
<rect x="-4" y="-8.6" width="2" height="2.5" fill="#fff" stroke="none"/>
<rect x="-12" y="3" width="6" height="2" fill="#fff" stroke="none"/>
<rect x="-3" y="-1" width="2" height="2" fill="#fff" stroke="none"/>
<path d="M-14.3,2 L-9,5" stroke="#fff" stroke-width="1.2"/>
</g>
<g transform="translate(175.5,525.5) rotate(180)">
<path d="M-34.6,40.6 L-34.6,0.8 L34.3,0.8 L34.3,40.6 L26.8,40.6 L26.8,8.5 L-27.2,8.5 L-27.2,40.6 Z" stroke-width="1.8"/>
<path d="M-27.2,12 L-27.2,40.6 M26.8,12 L26.8,40.6" stroke-width="2.6"/>
<line x1="-27" y1="32.4" x2="27" y2="32.4" stroke-width="1"/>
<rect x="-24.3" y="11.8" width="9" height="23.5" stroke-width="2"/>
<rect x="13.5" y="11.8" width="9.3" height="23.5" stroke-width="2"/>
<rect x="-24.3" y="11" width="47.1" height="7.2" fill="#000" stroke="none"/>
<rect x="-20" y="14.5" width="5" height="1.3" fill="#fff" stroke="none"/>
<rect x="15.5" y="14.5" width="5" height="1.3" fill="#fff" stroke="none"/>
<rect x="-9" y="11.5" width="16" height="1.2" fill="#fff" stroke="none"/>
<rect x="-26" y="-4.5" width="11.7" height="10.2" stroke-width="2.4"/>
<rect x="-23" y="-2.5" width="6" height="2" fill="#fff" stroke="none"/>
<rect x="-14.3" y="-8.5" width="22.8" height="20" fill="#000" stroke="none"/>
<rect x="-10" y="-8.6" width="2" height="2.5" fill="#fff" stroke="none"/>
<rect x="-4" y="-8.6" width="2" height="2.5" fill="#fff" stroke="none"/>
<rect x="-12" y="3" width="6" height="2" fill="#fff" stroke="none"/>
<rect x="-3" y="-1" width="2" height="2" fill="#fff" stroke="none"/>
<path d="M-14.3,2 L-9,5" stroke="#fff" stroke-width="1.2"/>
</g>
<g transform="translate(485.5,525.5) rotate(180)">
<rect x="-29" y="10.6" width="57.5" height="36.4" stroke-width="1"/>
<path d="M-34.6,40.6 L-34.6,0.8 L34.3,0.8 L34.3,40.6 L26.8,40.6 L26.8,8.5 L-27.2,8.5 L-27.2,40.6 Z" stroke-width="1.8"/>
<path d="M-27.2,12 L-27.2,40.6 M26.8,12 L26.8,40.6" stroke-width="2.6"/>
<line x1="-27" y1="32.4" x2="27" y2="32.4" stroke-width="1"/>
<rect x="-24.3" y="11.8" width="9" height="23.5" stroke-width="2"/>
<rect x="13.5" y="11.8" width="9.3" height="23.5" stroke-width="2"/>
<rect x="-24.3" y="11" width="47.1" height="7.2" fill="#000" stroke="none"/>
<rect x="-20" y="14.5" width="5" height="1.3" fill="#fff" stroke="none"/>
<rect x="15.5" y="14.5" width="5" height="1.3" fill="#fff" stroke="none"/>
<rect x="-9" y="11.5" width="16" height="1.2" fill="#fff" stroke="none"/>
</g>
<rect x="475.2" y="513.8" width="17.1" height="21.8" fill="#000" stroke="none"/>
<rect x="478" y="531.5" width="1.6" height="4.2" fill="#fff" stroke="none"/>
<rect x="483.5" y="531.5" width="1.6" height="4.2" fill="#fff" stroke="none"/>
<rect x="488.5" y="531.5" width="1.6" height="4.2" fill="#fff" stroke="none"/>
<rect x="477" y="527" width="14" height="1.2" fill="#fff" stroke="none"/>
<rect x="481.5" y="516" width="3" height="1.2" fill="#fff" stroke="none"/>
<rect x="492.3" y="520" width="19.4" height="13.6" fill="#000" stroke="none"/>
<rect x="495" y="522.3" width="9" height="3.5" fill="#fff" stroke="none"/>
<rect x="495" y="527.5" width="9" height="3" fill="#fff" stroke="none"/>
<rect x="506" y="522.5" width="2" height="8" fill="#fff" stroke="none"/>
<rect x="492.3" y="523" width="2" height="8" fill="#000" stroke="none"/>
<g transform="translate(818.3,525.5) rotate(180)">
<rect x="-29" y="10.6" width="57.5" height="36.4" stroke-width="1"/>
<path d="M-34.6,40.6 L-34.6,0.8 L34.3,0.8 L34.3,40.6 L26.8,40.6 L26.8,8.5 L-27.2,8.5 L-27.2,40.6 Z" stroke-width="1.8"/>
<path d="M-27.2,12 L-27.2,40.6 M26.8,12 L26.8,40.6" stroke-width="2.6"/>
<line x1="-27" y1="32.4" x2="27" y2="32.4" stroke-width="1"/>
<rect x="-24.3" y="11.8" width="9" height="23.5" stroke-width="2"/>
<rect x="13.5" y="11.8" width="9.3" height="23.5" stroke-width="2"/>
<rect x="-24.3" y="11" width="47.1" height="7.2" fill="#000" stroke="none"/>
<rect x="-20" y="14.5" width="5" height="1.3" fill="#fff" stroke="none"/>
<rect x="15.5" y="14.5" width="5" height="1.3" fill="#fff" stroke="none"/>
<rect x="-9" y="11.5" width="16" height="1.2" fill="#fff" stroke="none"/>
</g>
<rect x="808" y="513.8" width="17.1" height="21.8" fill="#000" stroke="none"/>
<rect x="810.8" y="531.5" width="1.6" height="4.2" fill="#fff" stroke="none"/>
<rect x="816.3" y="531.5" width="1.6" height="4.2" fill="#fff" stroke="none"/>
<rect x="821.3" y="531.5" width="1.6" height="4.2" fill="#fff" stroke="none"/>
<rect x="809.8" y="527" width="14" height="1.2" fill="#fff" stroke="none"/>
<rect x="814.3" y="516" width="3" height="1.2" fill="#fff" stroke="none"/>
<rect x="825.1" y="520" width="19.4" height="13.6" fill="#000" stroke="none"/>
<rect x="827.8" y="522.3" width="9" height="3.5" fill="#fff" stroke="none"/>
<rect x="827.8" y="527.5" width="9" height="3" fill="#fff" stroke="none"/>
<rect x="838.8" y="522.5" width="2" height="8" fill="#fff" stroke="none"/>
<rect x="825.1" y="523" width="2" height="8" fill="#000" stroke="none"/>
<line x1="175.5" y1="372" x2="175.5" y2="515" stroke-width="1"/>
<line x1="485.5" y1="372" x2="485.5" y2="515" stroke-width="1"/>
<line x1="818" y1="372" x2="818" y2="515" stroke-width="1"/>
<g transform="translate(227.6,500.2) scale(1,1)">
<path d="M-9,-16 L-1.6,-2.8 M18.6,0.6 L3.2,0 M-9,17 L-1.6,2.8" stroke-width="2.9"/>
<circle cx="0" cy="0" r="3.3" stroke-width="1.6" fill="#fff"/>
<circle cx="-9" cy="-16" r="3.7" fill="#000" stroke="none"/>
<circle cx="18.6" cy="0.6" r="3.7" fill="#000" stroke="none"/>
<circle cx="-9" cy="17" r="3.7" fill="#000" stroke="none"/>
<path d="M-10,0 L0,0 M0,-16 L0,18.5" stroke-width="1"/>
</g>
<g transform="translate(434,390.6) scale(-1,1)">
<path d="M-9,-16 L-1.6,-2.8 M18.6,0.6 L3.2,0 M-9,17 L-1.6,2.8" stroke-width="2.9"/>
<circle cx="0" cy="0" r="3.3" stroke-width="1.6" fill="#fff"/>
<circle cx="-9" cy="-16" r="3.7" fill="#000" stroke="none"/>
<circle cx="18.6" cy="0.6" r="3.7" fill="#000" stroke="none"/>
<circle cx="-9" cy="17" r="3.7" fill="#000" stroke="none"/>
<path d="M-10,0 L0,0 M0,-16 L0,18.5" stroke-width="1"/>
</g>
<g transform="translate(764.9,393) scale(-1,1)">
<path d="M-9,-16 L-1.6,-2.8 M18.6,0.6 L3.2,0 M-9,17 L-1.6,2.8" stroke-width="2.9"/>
<circle cx="0" cy="0" r="3.3" stroke-width="1.6" fill="#fff"/>
<circle cx="-9" cy="-16" r="3.7" fill="#000" stroke="none"/>
<circle cx="18.6" cy="0.6" r="3.7" fill="#000" stroke="none"/>
<circle cx="-9" cy="17" r="3.7" fill="#000" stroke="none"/>
<path d="M-10,0 L0,0 M0,-16 L0,18.5" stroke-width="1"/>
</g>
<g transform="translate(764.9,495.8) scale(-1,1)">
<path d="M-9,-16 L-1.6,-2.8 M18.6,0.6 L3.2,0 M-9,17 L-1.6,2.8" stroke-width="2.9"/>
<circle cx="0" cy="0" r="3.3" stroke-width="1.6" fill="#fff"/>
<circle cx="-9" cy="-16" r="3.7" fill="#000" stroke="none"/>
<circle cx="18.6" cy="0.6" r="3.7" fill="#000" stroke="none"/>
<circle cx="-9" cy="17" r="3.7" fill="#000" stroke="none"/>
<path d="M-10,0 L0,0 M0,-16 L0,18.5" stroke-width="1"/>
</g>
<line x1="540.3" y1="377.3" x2="540.3" y2="512" stroke-width="1"/>
<line x1="543.81" y1="377.3" x2="543.81" y2="512" stroke-width="1"/>
<line x1="547.32" y1="377.3" x2="547.32" y2="512" stroke-width="1"/>
<line x1="550.83" y1="377.3" x2="550.83" y2="512" stroke-width="1"/>
<line x1="554.34" y1="377.3" x2="554.34" y2="512" stroke-width="1"/>
<line x1="557.85" y1="377.3" x2="557.85" y2="512" stroke-width="1"/>
<line x1="561.36" y1="377.3" x2="561.36" y2="512" stroke-width="1"/>
<line x1="564.87" y1="377.3" x2="564.87" y2="512" stroke-width="1"/>
<line x1="568.38" y1="377.3" x2="568.38" y2="512" stroke-width="1"/>
<line x1="571.89" y1="377.3" x2="571.89" y2="512" stroke-width="1"/>
<line x1="575.4" y1="377.3" x2="575.4" y2="512" stroke-width="1"/>
<line x1="578.91" y1="377.3" x2="578.91" y2="512" stroke-width="1"/>
<line x1="586.8" y1="377.3" x2="586.8" y2="512" stroke-width="1"/>
<line x1="590.4" y1="377.3" x2="590.4" y2="512" stroke-width="1"/>
<line x1="594" y1="377.3" x2="594" y2="512" stroke-width="1"/>
<line x1="597.6" y1="377.3" x2="597.6" y2="512" stroke-width="1"/>
<line x1="601.2" y1="377.3" x2="601.2" y2="512" stroke-width="1"/>
<line x1="604.8" y1="377.3" x2="604.8" y2="512" stroke-width="1"/>
<line x1="608.4" y1="377.3" x2="608.4" y2="512" stroke-width="1"/>
<line x1="612" y1="377.3" x2="612" y2="512" stroke-width="1"/>
<line x1="615.6" y1="377.3" x2="615.6" y2="512" stroke-width="1"/>
<line x1="619.2" y1="377.3" x2="619.2" y2="512" stroke-width="1"/>
<line x1="622.8" y1="377.3" x2="622.8" y2="512" stroke-width="1"/>
<line x1="626.4" y1="377.3" x2="626.4" y2="512" stroke-width="1"/>
<rect x="528.4" y="440.8" width="110.6" height="7.2" fill="#fff" stroke="none"/>
<rect x="541.5" y="441.3" width="38" height="6" stroke-width="1"/>
<rect x="586" y="441.3" width="40.4" height="6" stroke-width="1"/>
<line x1="541.5" y1="443.9" x2="579.5" y2="443.9" stroke-width="1"/>
<line x1="586" y1="443.9" x2="626.4" y2="443.9" stroke-width="1"/>
<rect x="528.4" y="440.8" width="12.6" height="7.2" fill="#000" stroke="none"/>
<rect x="626.4" y="440.8" width="11" height="7.2" fill="#000" stroke="none"/>
<rect x="529.5" y="442.2" width="2" height="4.4" fill="#fff" stroke="none"/>
<path d="M579.5,441.3 L583,444.3 L579.5,447.3 M586,441.3 L582.5,444.3 L586,447.3" stroke-width="1"/>
<line x1="522" y1="444.3" x2="528.4" y2="444.3" stroke-width="1"/>
<line x1="637.4" y1="444.3" x2="643.6" y2="444.3" stroke-width="1"/>
<line x1="639.5" y1="439" x2="639.5" y2="450" stroke-width="1"/>
<polyline points="176,353.3 150,351 137.9,349.8 130.6,353.3 116,366.4 114.6,382.5 123.3,423.3 120.4,452.4 113.1,493.3 114.6,516.6 126.2,538.5 135,541.4 190,546.1 225.5,547.6 281.8,544.6 346.9,560.9 400,554.2 409.5,551.9 452.1,562.1 482.1,562.9 518.5,549.5 556.4,547.9 600,546 642.4,544.4 663.1,556.5 721.9,554.7 773.7,542.6 810,534" stroke-width="1"/>
<polyline points="209.2,528.3 240.3,531.3 287.7,524.5 349.9,538.1 391.4,533 453.7,551.9 501.1,544 526.4,546.3 563,529.5 600,529 632,532.3 670,547.8 721.9,542.6 810,534" stroke-width="1"/>
<polyline points="497.9,535.3 520,538.4 566.4,525.4 635.5,525.4 663,534 721.9,535.7 773.7,530.5 810,532.3" stroke-width="1"/>
<polyline points="493.3,354.7 551,345.8 626.6,366.6 697.7,355.5 751,364.4 799.9,341.3 853.7,340.4 895.2,340.4 903,345 923.8,393 922.5,436.1 921.2,476.8 900.9,517.4 884.4,547.8 873,549 852.7,541.5 840,535.1" stroke-width="1"/>
<polyline points="826.5,354.7 871.5,350 878.9,352.2 894.6,393 897.1,418.4 900.4,464 898.4,479.3 888.2,507.2 880.6,532.6 875.5,536.4 850.2,535.1 840,532.6" stroke-width="1"/>
<g transform="translate(239.3,344) scale(1.0148,1)" stroke-width="1.05" stroke-linejoin="round">
<path transform="translate(0.00,0)" d="M6.3,-11.5 L1.3,-11.5 Q0,-11.5 0,-10.2 L0,-1.3 Q0,0 1.3,0 L6.3,0" vector-effect="non-scaling-stroke"/>
<path transform="translate(9.20,0)" d="M0,0 L0,-8.0 L7.8999999999999995,-8.0 Q9.2,-8.0 9.2,-6.7 L9.2,0 M4.6,-8.0 L4.6,0" vector-effect="non-scaling-stroke"/>
<path transform="translate(21.30,0)" d="M1.3,-8.0 L4.2,-8.0 Q5.5,-8.0 5.5,-6.7 L5.5,-1.3 Q5.5,0 4.2,0 L1.3,0 Q0,0 0,-1.3 L0,-6.7 Q0,-8.0 1.3,-8.0 Z" vector-effect="non-scaling-stroke"/>
<path transform="translate(29.70,0)" d="M0,-8.0 L0,-1.3 Q0,0 1.3,0 L5,0 M5,-8.0 L5,0 M0.8,-10.4 L4.2,-10.4" vector-effect="non-scaling-stroke"/>
<path transform="translate(37.60,0)" d="M0,-8.0 L0,0 M0,-4 L1.6,-4 L4.8,-8.0 M1.6,-4 L4.8,0" vector-effect="non-scaling-stroke"/>
<path transform="translate(45.30,0)" d="M5.6,-8.0 L1.3,-8.0 Q0,-8.0 0,-6.7 L0,-1.3 Q0,0 1.3,0 L5.6,0 M5.6,-8.0 L5.6,-1 Q5.6,0 6.6,0" vector-effect="non-scaling-stroke"/>
<path transform="translate(60.00,0)" d="M0,0 L0,-11.5 L5.2,0 L5.2,-11.5" vector-effect="non-scaling-stroke"/>
<path transform="translate(68.10,0)" d="M5.6,-11.5 L2.6,-11.5 Q0,-10.7 0,-8 L0,-1.3 Q0,0 1.3,0 L5.0,0 Q6.3,0 6.3,-1.3 L6.3,-4.6 Q6.3,-6 5.0,-6 L0,-6" vector-effect="non-scaling-stroke"/>
</g>
<polyline points="192.6,367.4 235.5,347.4 311.8,347.4" stroke-width="1"/>
<g transform="translate(548.2,332.3) scale(1.0229,1)" stroke-width="1.05" stroke-linejoin="round">
<path transform="translate(0.00,0)" d="M6.3,-11.5 L1.3,-11.5 Q0,-11.5 0,-10.2 L0,-1.3 Q0,0 1.3,0 L6.3,0" vector-effect="non-scaling-stroke"/>
<path transform="translate(9.20,0)" d="M0,0 L0,-8.0 L7.8999999999999995,-8.0 Q9.2,-8.0 9.2,-6.7 L9.2,0 M4.6,-8.0 L4.6,0" vector-effect="non-scaling-stroke"/>
<path transform="translate(21.30,0)" d="M1.3,-8.0 L4.2,-8.0 Q5.5,-8.0 5.5,-6.7 L5.5,-1.3 Q5.5,0 4.2,0 L1.3,0 Q0,0 0,-1.3 L0,-6.7 Q0,-8.0 1.3,-8.0 Z" vector-effect="non-scaling-stroke"/>
<path transform="translate(29.70,0)" d="M0,-8.0 L0,-1.3 Q0,0 1.3,0 L5,0 M5,-8.0 L5,0 M0.8,-10.4 L4.2,-10.4" vector-effect="non-scaling-stroke"/>
<path transform="translate(37.60,0)" d="M0,-8.0 L0,0 M0,-4 L1.6,-4 L4.8,-8.0 M1.6,-4 L4.8,0" vector-effect="non-scaling-stroke"/>
<path transform="translate(45.30,0)" d="M5.6,-8.0 L1.3,-8.0 Q0,-8.0 0,-6.7 L0,-1.3 Q0,0 1.3,0 L5.6,0 M5.6,-8.0 L5.6,-1 Q5.6,0 6.6,0" vector-effect="non-scaling-stroke"/>
<path transform="translate(60.00,0)" d="M0,0 L0,-11.5 L5.2,0 L5.2,-11.5" vector-effect="non-scaling-stroke"/>
<path transform="translate(68.10,0)" d="M6,-11.5 L0.6,-11.5 L0.2,-6.4 L4.7,-6.4 Q6,-6.4 6,-5.1000000000000005 L6,-1.3 Q6,0 4.7,0 L0,0" vector-effect="non-scaling-stroke"/>
</g>
<polyline points="500,366.6 544.8,335.7 620.8,335.7" stroke-width="1"/>
<g transform="translate(639.6,332.3) scale(0.9860,1)" stroke-width="1.05" stroke-linejoin="round">
<path transform="translate(0.00,0)" d="M0,0 L0,-11.5 L6.3,-11.5 L6.3,0" vector-effect="non-scaling-stroke"/>
<path transform="translate(9.20,0)" d="M1.3,-8.0 L4.2,-8.0 Q5.5,-8.0 5.5,-6.7 L5.5,-1.3 Q5.5,0 4.2,0 L1.3,0 Q0,0 0,-1.3 L0,-6.7 Q0,-8.0 1.3,-8.0 Z" vector-effect="non-scaling-stroke"/>
<path transform="translate(17.60,0)" d="M5.8,-11.5 L5.8,-1.3 Q5.8,0 4.5,0 L1.3,0 Q0,0 0,-1.3 L0,-6.7 Q0,-8.0 1.3,-8.0 L5.8,-8.0" vector-effect="non-scaling-stroke"/>
<path transform="translate(26.30,0)" d="M4.4,-8.0 L1.3,-8.0 Q0,-8.0 0,-6.7 L0,-1.3 Q0,0 1.3,0 L4.4,0" vector-effect="non-scaling-stroke"/>
<path transform="translate(33.60,0)" d="M0,0 L0,-8.0 L7.8999999999999995,-8.0 Q9.2,-8.0 9.2,-6.7 L9.2,0 M4.6,-8.0 L4.6,0" vector-effect="non-scaling-stroke"/>
<path transform="translate(45.70,0)" d="M5.6,-8.0 L1.3,-8.0 Q0,-8.0 0,-6.7 L0,-1.3 Q0,0 1.3,0 L5.6,0 M5.6,-8.0 L5.6,-1 Q5.6,0 6.6,0" vector-effect="non-scaling-stroke"/>
<path transform="translate(55.20,0)" d="M3.2,-11.5 L1.3,-11.5 Q0,-11.5 0,-10.2 L0,0 L5.0,0 Q6.3,0 6.3,-1.3 L6.3,-6.7 Q6.3,-8.0 5.0,-8.0 L0,-8.0" vector-effect="non-scaling-stroke"/>
<path transform="translate(64.40,0)" d="M0,-8.0 L0,0 M0,-4 L1.6,-4 L4.8,-8.0 M1.6,-4 L4.8,0" vector-effect="non-scaling-stroke"/>
<path transform="translate(72.10,0)" d="M5.6,-8.0 L1.3,-8.0 Q0,-8.0 0,-6.7 L0,-1.3 Q0,0 1.3,0 L5.6,0 M5.6,-8.0 L5.6,-1 Q5.6,0 6.6,0" vector-effect="non-scaling-stroke"/>
</g>
<polyline points="638.2,335.7 712.6,335.7" stroke-width="1"/>
<line x1="712.6" y1="335.7" x2="765.6" y2="391.8" stroke-width="1"/>
<line x1="730" y1="314" x2="764" y2="276" stroke-width="1"/>
<line x1="717.6" y1="329.8" x2="730" y2="314" stroke-width="1"/>
<g transform="translate(882.2,329.6) scale(1.0242,1)" stroke-width="1.05" stroke-linejoin="round">
<path transform="translate(0.00,0)" d="M6.3,-11.5 L1.3,-11.5 Q0,-11.5 0,-10.2 L0,-1.3 Q0,0 1.3,0 L6.3,0" vector-effect="non-scaling-stroke"/>
<path transform="translate(9.20,0)" d="M0,0 L0,-8.0 L7.8999999999999995,-8.0 Q9.2,-8.0 9.2,-6.7 L9.2,0 M4.6,-8.0 L4.6,0" vector-effect="non-scaling-stroke"/>
<path transform="translate(21.30,0)" d="M1.3,-8.0 L4.2,-8.0 Q5.5,-8.0 5.5,-6.7 L5.5,-1.3 Q5.5,0 4.2,0 L1.3,0 Q0,0 0,-1.3 L0,-6.7 Q0,-8.0 1.3,-8.0 Z" vector-effect="non-scaling-stroke"/>
<path transform="translate(29.70,0)" d="M0,-8.0 L0,-1.3 Q0,0 1.3,0 L5,0 M5,-8.0 L5,0 M0.8,-10.4 L4.2,-10.4" vector-effect="non-scaling-stroke"/>
<path transform="translate(37.60,0)" d="M0,-8.0 L0,0 M0,-4 L1.6,-4 L4.8,-8.0 M1.6,-4 L4.8,0" vector-effect="non-scaling-stroke"/>
<path transform="translate(45.30,0)" d="M5.6,-8.0 L1.3,-8.0 Q0,-8.0 0,-6.7 L0,-1.3 Q0,0 1.3,0 L5.6,0 M5.6,-8.0 L5.6,-1 Q5.6,0 6.6,0" vector-effect="non-scaling-stroke"/>
<path transform="translate(60.00,0)" d="M0,0 L0,-11.5 L5.2,0 L5.2,-11.5" vector-effect="non-scaling-stroke"/>
<path transform="translate(68.10,0)" d="M4.9,0 L4.9,-11.5 L0,-3.6 L6.3,-3.6" vector-effect="non-scaling-stroke"/>
</g>
<polyline points="834.9,367 878.9,332.2 955.1,332.2" stroke-width="1"/>
<g transform="translate(898.4,596.3) scale(1.0294,1)" stroke-width="1.05" stroke-linejoin="round">
<path transform="translate(0.00,0)" d="M6.3,-11.5 L1.3,-11.5 Q0,-11.5 0,-10.2 L0,-1.3 Q0,0 1.3,0 L6.3,0" vector-effect="non-scaling-stroke"/>
<path transform="translate(9.20,0)" d="M0,0 L0,-8.0 L7.8999999999999995,-8.0 Q9.2,-8.0 9.2,-6.7 L9.2,0 M4.6,-8.0 L4.6,0" vector-effect="non-scaling-stroke"/>
<path transform="translate(21.30,0)" d="M1.3,-8.0 L4.2,-8.0 Q5.5,-8.0 5.5,-6.7 L5.5,-1.3 Q5.5,0 4.2,0 L1.3,0 Q0,0 0,-1.3 L0,-6.7 Q0,-8.0 1.3,-8.0 Z" vector-effect="non-scaling-stroke"/>
<path transform="translate(29.70,0)" d="M0,-8.0 L0,-1.3 Q0,0 1.3,0 L5,0 M5,-8.0 L5,0 M0.8,-10.4 L4.2,-10.4" vector-effect="non-scaling-stroke"/>
<path transform="translate(37.60,0)" d="M0,-8.0 L0,0 M0,-4 L1.6,-4 L4.8,-8.0 M1.6,-4 L4.8,0" vector-effect="non-scaling-stroke"/>
<path transform="translate(45.30,0)" d="M5.6,-8.0 L1.3,-8.0 Q0,-8.0 0,-6.7 L0,-1.3 Q0,0 1.3,0 L5.6,0 M5.6,-8.0 L5.6,-1 Q5.6,0 6.6,0" vector-effect="non-scaling-stroke"/>
<path transform="translate(60.00,0)" d="M0,0 L0,-11.5 L5.2,0 L5.2,-11.5" vector-effect="non-scaling-stroke"/>
<path transform="translate(68.10,0)" d="M0.4,-8.8 L3.2,-11.5 L3.2,0" vector-effect="non-scaling-stroke"/>
</g>
<polyline points="847.3,522 896,598.2 968.6,598.2" stroke-width="1"/>
<text x="335.9" y="464.8" font-size="16.2" font-weight="normal" fill="#000" stroke="none" textLength="76" lengthAdjust="spacingAndGlyphs" >Стойка N 2</text>
<polyline points="454,504.7 419.8,470.2 331.4,470.2" stroke-width="1"/>
<g transform="translate(248,593.1) scale(1.0013,1)" stroke-width="1.05" stroke-linejoin="round">
<path transform="translate(0.00,0)" d="M6.3,-11.5 L1.3,-11.5 Q0,-11.5 0,-10.2 L0,-1.3 Q0,0 1.3,0 L6.3,0" vector-effect="non-scaling-stroke"/>
<path transform="translate(9.20,0)" d="M0,0 L0,-8.0 L7.8999999999999995,-8.0 Q9.2,-8.0 9.2,-6.7 L9.2,0 M4.6,-8.0 L4.6,0" vector-effect="non-scaling-stroke"/>
<path transform="translate(21.30,0)" d="M1.3,-8.0 L4.2,-8.0 Q5.5,-8.0 5.5,-6.7 L5.5,-1.3 Q5.5,0 4.2,0 L1.3,0 Q0,0 0,-1.3 L0,-6.7 Q0,-8.0 1.3,-8.0 Z" vector-effect="non-scaling-stroke"/>
<path transform="translate(29.70,0)" d="M0,-8.0 L0,-1.3 Q0,0 1.3,0 L5,0 M5,-8.0 L5,0 M0.8,-10.4 L4.2,-10.4" vector-effect="non-scaling-stroke"/>
<path transform="translate(37.60,0)" d="M0,-8.0 L0,0 M0,-4 L1.6,-4 L4.8,-8.0 M1.6,-4 L4.8,0" vector-effect="non-scaling-stroke"/>
<path transform="translate(45.30,0)" d="M5.6,-8.0 L1.3,-8.0 Q0,-8.0 0,-6.7 L0,-1.3 Q0,0 1.3,0 L5.6,0 M5.6,-8.0 L5.6,-1 Q5.6,0 6.6,0" vector-effect="non-scaling-stroke"/>
<path transform="translate(60.00,0)" d="M0,0 L0,-11.5 L5.2,0 L5.2,-11.5" vector-effect="non-scaling-stroke"/>
<path transform="translate(68.10,0)" d="M0,-11.5 L5.8,-11.5 L2.6,-6.6 L4.7,-6.6 Q6,-6.6 6,-5.3 L6,-1.3 Q6,0 4.7,0 L0,0" vector-effect="non-scaling-stroke"/>
</g>
<polyline points="204.4,524.4 247.6,595.4 317.6,595.4" stroke-width="1"/>
<rect x="565" y="527" width="66" height="22" fill="#fff" stroke="none"/>
<text x="573" y="545.7" font-size="15.8" font-weight="bold" fill="#000" stroke="none" textLength="30" lengthAdjust="spacingAndGlyphs" >Вид</text>
<text x="610.4" y="546" font-size="21.5" font-weight="bold" fill="#000" stroke="none" >А</text>
<line x1="570.3" y1="552" x2="630.7" y2="552" stroke-width="2.2"/>
<path d="M68.4,652 L68.4,556.8 L83,555.3 L87.5,555.3 L114.3,569.8 L133.5,561.4 L143.4,559.1 L164.8,550.4 L203.8,566 L204.6,566 L204.6,647 Q204,649.7 200.5,649.7 L72.5,649.7 Q68.4,649.7 68.4,646"/>
<path d="M70.7,556.6 L70.7,589 Q70.7,596.3 77,596.3 L128,596.3 Q133.5,596.3 133.5,590 L133.5,561.4"/>
<path d="M138.8,560 L138.8,590 Q138.8,596.3 145,596.3 L196,596.3 Q202.3,596.3 202.3,589 L202.3,566"/>
<line x1="130.4" y1="562" x2="130.4" y2="589.7" stroke-width="1"/>
<line x1="142.6" y1="559.9" x2="142.6" y2="589.7" stroke-width="1"/>
<line x1="102" y1="602" x2="130.7" y2="559.9" stroke-width="1"/>
<line x1="142.6" y1="559.9" x2="170.2" y2="602" stroke-width="1"/>
<path d="M73.4,649.7 L73.4,661 L88.7,661 L88.7,649.7 M65.3,656.8 L88.7,656.8 M65.3,656.8 L65.3,664.9 L88.7,664.9 L88.7,668 L73.4,668 L73.4,664.9"/>
<path d="M184.2,649.7 L184.2,661 L201.5,661 L201.5,649.7 M184.2,657 L210.6,657 L210.6,665 L184.2,665 L184.2,668 L201.5,668 L201.5,665"/>
<rect x="47.1" y="608.1" width="17.2" height="13.2" fill="#000" stroke="none"/>
<circle cx="53" cy="614.6" r="3.3" fill="#fff" stroke="none"/>
<line x1="49.8" y1="614.6" x2="56.2" y2="614.6" stroke-width="0.8"/>
<line x1="53" y1="611.4" x2="53" y2="617.8" stroke-width="0.8"/>
<rect x="58.5" y="611" width="4" height="1.8" fill="#fff" stroke="none"/>
<rect x="58.5" y="615" width="4" height="1.8" fill="#fff" stroke="none"/>
<rect x="54.2" y="621.3" width="9" height="7" fill="#000" stroke="none"/>
<rect x="51.1" y="626.4" width="4.1" height="113.6" fill="#000" stroke="none"/>
<line x1="61.6" y1="626.4" x2="61.6" y2="740" stroke-width="2.6"/>
<line x1="57.6" y1="628" x2="57.6" y2="738" stroke-width="0.8"/>
<path d="M56,633 L57.6,640 L59.2,633 M56,733 L57.6,726 L59.2,733" stroke-width="0.9"/>
<line x1="62.3" y1="636.5" x2="67.4" y2="658.8" stroke-width="1"/>
<line x1="61.3" y1="715" x2="66" y2="738" stroke-width="1.2"/>
<rect x="45" y="674" width="6" height="11" stroke-width="1.2" />
<rect x="45" y="689" width="4.1" height="24.5" fill="#000" stroke="none"/>
<rect x="44" y="736" width="26" height="2.2" fill="#000" stroke="none"/>
<rect x="50" y="738" width="44.7" height="6" stroke-width="1" />
<circle cx="90.7" cy="744.3" r="2.4" fill="#000" stroke="none"/>
<line x1="54.2" y1="746" x2="54.2" y2="752" stroke-width="1"/>
<rect x="207.6" y="608.1" width="18.2" height="13.2" fill="#000" stroke="none"/>
<circle cx="220.3" cy="614.6" r="3.3" fill="#fff" stroke="none"/>
<line x1="217" y1="614.6" x2="223.6" y2="614.6" stroke-width="0.8"/>
<line x1="220.3" y1="611.4" x2="220.3" y2="617.8" stroke-width="0.8"/>
<rect x="210" y="611" width="5" height="1.8" fill="#fff" stroke="none"/>
<rect x="210" y="615" width="5" height="1.8" fill="#fff" stroke="none"/>
<rect x="210" y="621.3" width="9" height="7" fill="#000" stroke="none"/>
<rect x="217.7" y="626.4" width="5.1" height="115.6" fill="#000" stroke="none"/>
<line x1="210.3" y1="626.4" x2="210.3" y2="740" stroke-width="2.6"/>
<line x1="214.6" y1="628" x2="214.6" y2="738" stroke-width="0.8"/>
<path d="M213,633 L214.6,640 L216.2,633 M213,733 L214.6,726 L216.2,733" stroke-width="0.9"/>
<line x1="209.6" y1="637.6" x2="204.5" y2="658.9" stroke-width="1"/>
<line x1="210.6" y1="715" x2="205" y2="738" stroke-width="1.2"/>
<rect x="221.8" y="674" width="5" height="10.3" stroke-width="1.2" />
<path d="M224.8,692 L234,684.3" stroke-width="3.2"/>
<path d="M224.5,690 L229,690 L236,742 L231,742 Z" fill="#000" stroke="none"/>
<line x1="226" y1="692" x2="226" y2="742" stroke-width="1.5"/>
<rect x="178.1" y="738.5" width="41.6" height="2" fill="#000" stroke="none"/>
<rect x="178.5" y="740" width="41" height="6.5" stroke-width="1" />
<circle cx="182.2" cy="744.3" r="2.2" fill="#000" stroke="none"/>
<circle cx="231.5" cy="743.5" r="3.8" fill="#000" stroke="none"/>
<line x1="219" y1="746" x2="219" y2="752" stroke-width="1"/>
<text x="119" y="672.5" font-size="21" font-weight="normal" fill="#000" stroke="none" textLength="16" lengthAdjust="spacingAndGlyphs" >A</text>
<line x1="111.9" y1="678.7" x2="157" y2="678.7" stroke-width="1.3"/>
<polyline points="146,673.5 159.6,678.7 146,683.5" stroke-width="1.3"/>
<polyline points="148,676 155,678.7 148,681" stroke-width="1"/>
<g transform="translate(302.4,673.9) scale(1.0085,1)" stroke-width="1.05" stroke-linejoin="round">
<path transform="translate(0.00,0)" d="M0,-11.5 L6.7,-11.5 M3.35,-11.5 L3.35,0" vector-effect="non-scaling-stroke"/>
<path transform="translate(9.60,0)" d="M0,-4 L4.6,-4 L4.6,-6.7 Q4.6,-8.0 3.3,-8.0 L1.3,-8.0 Q0,-8.0 0,-6.7 L0,-1.3 Q0,0 1.3,0 L4.6,0" vector-effect="non-scaling-stroke"/>
<path transform="translate(17.10,0)" d="M0,0 L2.6,-8.0 L4.8,-8.0 L4.8,0" vector-effect="non-scaling-stroke"/>
<path transform="translate(24.80,0)" d="M0,-4 L4.6,-4 L4.6,-6.7 Q4.6,-8.0 3.3,-8.0 L1.3,-8.0 Q0,-8.0 0,-6.7 L0,-1.3 Q0,0 1.3,0 L4.6,0" vector-effect="non-scaling-stroke"/>
<path transform="translate(32.30,0)" d="M0,-8.0 L3.6,-4 L0,0 M9.4,-8.0 L5.8,-4 L9.4,0 M4.7,-8.0 L4.7,0 M3.6,-4 L5.8,-4" vector-effect="non-scaling-stroke"/>
<path transform="translate(44.60,0)" d="M0,-8.0 L0,0 M0,-4 L1.6,-4 L4.8,-8.0 M1.6,-4 L4.8,0" vector-effect="non-scaling-stroke"/>
<path transform="translate(52.30,0)" d="M5.6,-8.0 L1.3,-8.0 Q0,-8.0 0,-6.7 L0,-1.3 Q0,0 1.3,0 L5.6,0 M5.6,-8.0 L5.6,-1 Q5.6,0 6.6,0" vector-effect="non-scaling-stroke"/>
</g>
<polyline points="235,719.8 290.7,676.3 362,676.3" stroke-width="1"/>
<defs><clipPath id="dc"><path d="M654.6,583.5 A106.2,106.2 0 1 0 654.6,756.7 Z"/></clipPath>
<pattern id="ht" patternUnits="userSpaceOnUse" width="4.4" height="4.4" patternTransform="rotate(45)"><line x1="0" y1="0" x2="0" y2="4.4" stroke="#000" stroke-width="1"/></pattern></defs>
<path d="M654.6,583.5 A106.2,106.2 0 1 0 654.6,756.7" stroke-width="1"/>
<g clip-path="url(#dc)">
<line x1="654.6" y1="583.5" x2="654.6" y2="756.7" stroke-width="1"/>
<path d="M528.8,586 Q524,670 525.9,765" stroke-width="1"/>
<line x1="502.2" y1="623" x2="502.2" y2="719" stroke-width="1"/>
<rect x="541.5" y="560" width="6.5" height="220" fill="url(#ht)" stroke-width="1"/>
<path d="M548,574.2 L560.5,574.2 L560.5,592.7 L564.3,592.7 L564.3,691.3 L552.5,691.3 L552.5,658.5 L554,658.5 L554,605.2 L551.8,605.2 L551.8,592.7 L548,592.7 Z" fill="url(#ht)" stroke-width="1.1"/>
<rect x="564.3" y="612.8" width="2.2" height="78.5" fill="url(#ht)" stroke-width="1"/>
<rect x="556.3" y="700" width="9.5" height="43" fill="url(#ht)" stroke-width="1.1"/>
<line x1="564.3" y1="560" x2="564.3" y2="592.7" stroke-width="1"/>
<line x1="566.5" y1="560" x2="566.5" y2="780" stroke-width="1"/>
<line x1="570.3" y1="560" x2="570.3" y2="780" stroke-width="1"/>
<line x1="615.9" y1="560" x2="615.9" y2="780" stroke-width="1"/>
<line x1="620.8" y1="560" x2="620.8" y2="780" stroke-width="1"/>
<line x1="623.5" y1="560" x2="623.5" y2="592.7" stroke-width="1"/>
<line x1="593.1" y1="560" x2="593.1" y2="780" stroke-width="0.9" stroke-dasharray="16,3,2,3"/>
<path d="M626.2,574.2 L634.3,574.2 L634.3,605.2 L632.7,605.2 L632.7,658.5 L634,658.5 L634,691.3 L620.8,691.3 L620.8,605.2 L624,605.2 L624,592.7 L626.2,592.7 Z" fill="url(#ht)" stroke-width="1.1"/>
<rect x="620.8" y="700" width="10.1" height="43" fill="url(#ht)" stroke-width="1.1"/>
<line x1="641.5" y1="575" x2="641.5" y2="770" stroke-width="1"/>
<line x1="548" y1="700" x2="566.5" y2="700" stroke-width="1"/>
<line x1="548" y1="691.3" x2="566.5" y2="691.3" stroke-width="1"/>
</g>
<line x1="620.6" y1="691" x2="684.7" y2="691" stroke-width="1"/>
<line x1="630.9" y1="700.6" x2="684.7" y2="700.6" stroke-width="1"/>
<line x1="677.4" y1="663.6" x2="677.4" y2="722.3" stroke-width="1"/>
<polyline points="672,680 677.4,690.7 683,680" stroke-width="1"/>
<polyline points="672,712 677.4,700.6 683,712" stroke-width="1"/>
<text x="685.7" y="605.7" font-size="14.5" font-weight="bold" fill="#000" stroke="none" textLength="113.5" lengthAdjust="spacingAndGlyphs" >Гайка рабочая</text>
<polyline points="627.9,630.5 672.8,610.7 807.1,610.7" stroke-width="1"/>
<text x="684.7" y="654.5" font-size="14.5" font-weight="bold" fill="#000" stroke="none" textLength="134.3" lengthAdjust="spacingAndGlyphs" >Контроль зазора</text>
<text x="833.7" y="654.5" font-size="14.5" font-weight="bold" fill="#000" stroke="none" >L</text>
<line x1="677.8" y1="663.6" x2="844.6" y2="663.6" stroke-width="1"/>
<text x="688.6" y="733.6" font-size="14.5" font-weight="bold" fill="#000" stroke="none" textLength="148" lengthAdjust="spacingAndGlyphs" >Гайка страхующая</text>
<polyline points="626,715 672.8,742.5 844.6,742.5" stroke-width="1"/>
<text x="689.6" y="760.4" font-size="14.5" font-weight="bold" fill="#000" stroke="none" textLength="116.5" lengthAdjust="spacingAndGlyphs" >Винт грузовой</text>
<polyline points="601,746 673.8,765.2 813,765.2" stroke-width="1"/>
</g>
</svg></body></html>
